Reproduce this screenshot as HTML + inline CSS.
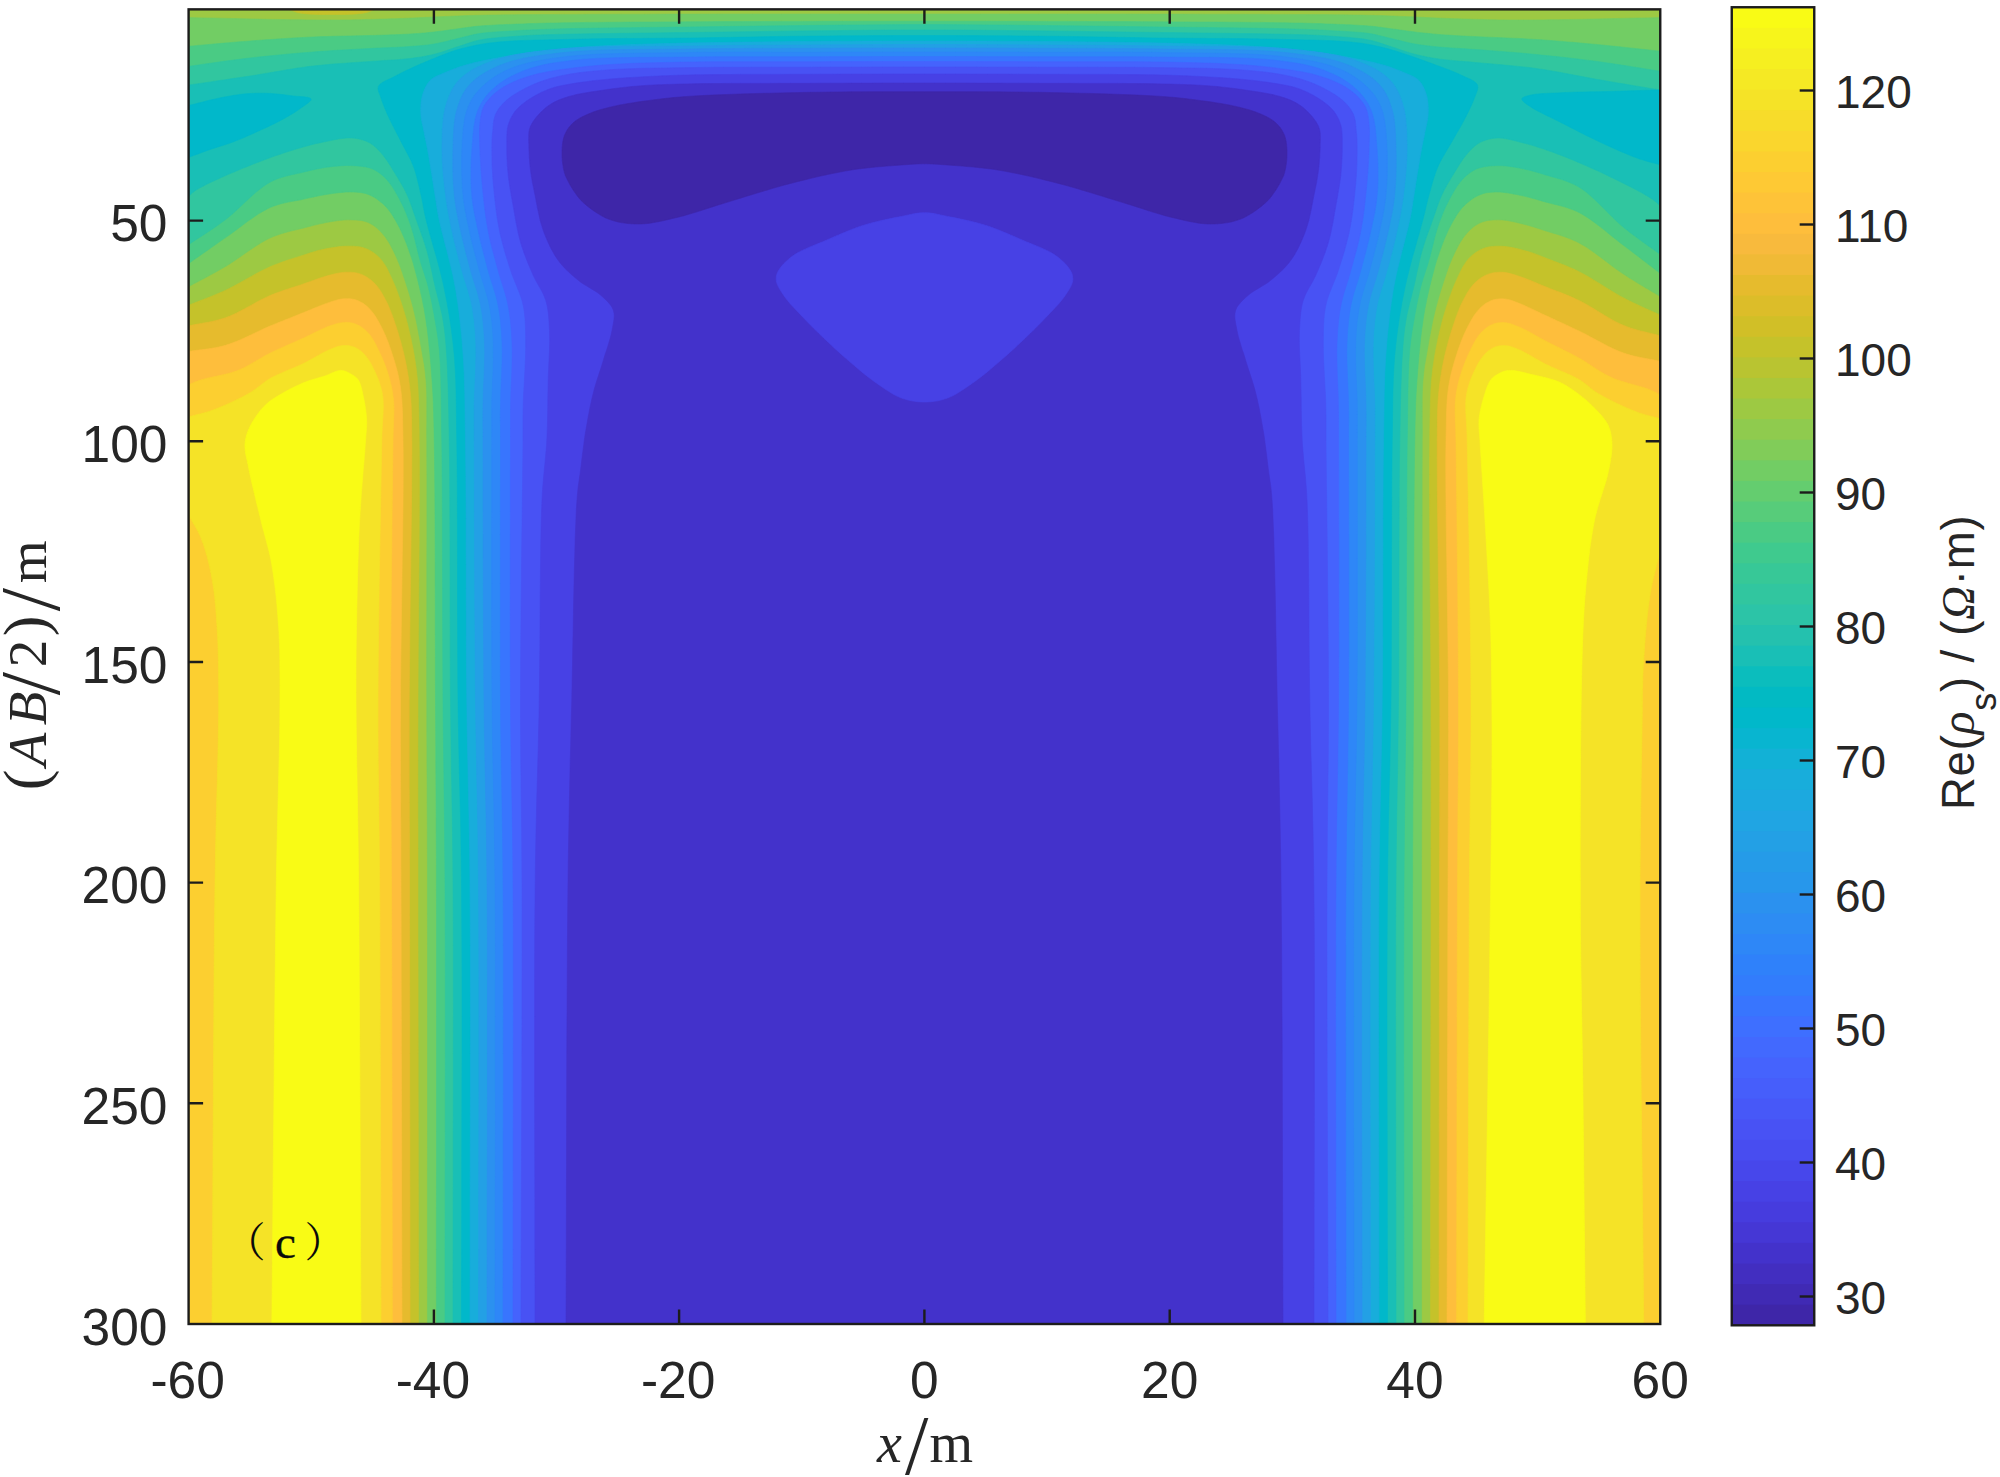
<!DOCTYPE html>
<html lang="en"><head><meta charset="utf-8"><title>Figure (c)</title>
<style>html,body{margin:0;padding:0;background:#fff}body{width:2000px;height:1477px;overflow:hidden}svg{display:block}</style></head>
<body>
<svg width="2000" height="1477" viewBox="0 0 2000 1477">
<defs><clipPath id="cp"><rect x="188.60" y="9.35" width="1471.65" height="1314.65"/></clipPath></defs>
<rect x="188.60" y="9.35" width="1471.65" height="1314.65" fill="#9dc943"/>
<g clip-path="url(#cp)">
<path d="M188,17.5 195.7,17.7 203.6,17.9 211.5,18 219.4,18.2 227.3,18.4 235.2,18.6 243.1,18.8 250.8,18.9 258.4,19.1 265.8,19.3 273,19.4 280,19.5 285.4,19.6 290.7,19.7 295.9,19.7 300.9,19.8 305.9,19.9 310.8,19.9 315.6,20 320.5,20 325.3,20 330.1,20 335,20 340,20 345.1,19.9 350.2,19.9 355.4,19.8 360.6,19.7 365.9,19.5 371.1,19.4 376.2,19.3 381.3,19.1 386.2,19 391,18.8 395.6,18.7 400,18.5 403.8,18.4 407.3,18.2 410.7,18.1 414,17.9 417.3,17.8 420.5,17.6 423.7,17.5 427,17.3 430.4,17.2 434,17 437.5,16.8 441,16.7 444.5,16.5 448,16.4 451.6,16.2 455.2,16 458.9,15.9 462.8,15.7 466.8,15.6 471,15.4 475.4,15.3 480,15.2 487.8,15 496.1,14.9 504.7,14.8 513.7,14.7 523,14.6 532.8,14.6 543,14.5 553.6,14.5 564.6,14.4 576,14.4 587.8,14.3 600,14.3 621.5,14.2 644.9,14.2 670,14.1 696.5,14.1 724,14 752.4,14 781.3,14 810.5,14 839.7,14 868.6,14 897,14 924.5,14 952,14 980.4,14 1009.3,14 1038.5,14 1067.7,14 1096.6,14 1125,14 1152.5,14.1 1179,14.1 1204.1,14.2 1227.5,14.2 1249,14.3 1261.2,14.3 1273,14.4 1284.4,14.4 1295.4,14.5 1306,14.5 1316.2,14.6 1326,14.6 1335.3,14.7 1344.3,14.8 1352.9,14.9 1361.2,15 1369,15.2 1373.6,15.3 1378,15.4 1382.2,15.6 1386.2,15.7 1390.1,15.9 1393.8,16 1397.4,16.2 1401,16.4 1404.5,16.5 1408,16.7 1411.5,16.8 1415,17 1418.6,17.2 1422,17.3 1425.3,17.5 1428.5,17.6 1431.7,17.8 1435,17.9 1438.3,18.1 1441.7,18.2 1445.2,18.4 1449,18.5 1453.4,18.7 1458,18.8 1462.8,19 1467.7,19.1 1472.8,19.3 1477.9,19.4 1483.1,19.5 1488.4,19.7 1493.6,19.8 1498.8,19.9 1503.9,19.9 1509,20 1514,20 1518.9,20 1523.7,20 1528.5,20 1533.4,20 1538.2,19.9 1543.1,19.9 1548.1,19.8 1553.1,19.7 1558.3,19.7 1563.6,19.6 1569,19.5 1576,19.4 1583.2,19.3 1590.6,19.1 1598.2,18.9 1605.9,18.8 1613.8,18.6 1621.7,18.4 1629.6,18.2 1637.5,18 1645.4,17.9 1653.3,17.7 1661,17.5 1661,297 1657.9,295.1 1654.8,293.2 1651.7,291.4 1648.6,289.5 1645.4,287.7 1642.3,285.8 1639.2,284 1636.1,282.1 1633,280.1 1629.8,278.2 1626.6,276.1 1623.4,274 1619.8,271.6 1616.1,269 1612.4,266.3 1608.7,263.4 1604.9,260.6 1601.2,257.7 1597.4,254.9 1593.7,252.2 1589.9,249.6 1586.3,247.1 1582.6,244.9 1579,242.9 1575.8,241.3 1572.6,239.9 1569.5,238.6 1566.3,237.4 1563.2,236.3 1560.1,235.3 1557,234.3 1554,233.4 1551,232.5 1548,231.6 1545.1,230.7 1541.7,229.6 1538.5,228.5 1535.2,227.5 1532,226.5 1528.9,225.6 1525.8,224.7 1522.7,223.9 1519.7,223.2 1516.7,222.5 1513.7,221.8 1510.8,221.2 1507.9,220.6 1505.1,220.2 1502.2,219.9 1499.4,219.8 1496.2,219.8 1493,219.9 1489.8,220.2 1486.7,220.7 1483.7,221.5 1480.8,222.5 1478,223.9 1475.3,225.6 1472.7,227.6 1470.2,229.8 1467.8,232.2 1465.6,234.7 1463.6,237.2 1461.8,239.9 1460,242.7 1458.4,245.6 1456.8,248.7 1455.2,251.8 1453.7,255 1452.4,257.8 1451.2,260.7 1450,263.6 1448.8,266.6 1447.7,269.7 1446.6,272.8 1445.6,275.9 1444.5,279 1443.5,282.1 1442.5,285.2 1441.5,288.4 1440.5,291.5 1439.5,294.7 1438.6,297.9 1437.7,301.1 1436.8,304.3 1435.9,307.6 1435.1,310.9 1434.3,314.2 1433.6,317.5 1432.8,320.8 1432.1,324.2 1431.5,327.6 1430.8,331 1430.2,334.4 1429.5,337.8 1428.9,341.3 1428.3,344.7 1427.7,348.1 1427.1,351.5 1426.5,354.9 1425.9,358.3 1425.3,361.7 1424.7,365.1 1424.2,368.7 1423.8,372.3 1423.4,376.1 1423,380 1422.7,384.4 1422.5,388.7 1422.3,393.1 1422.2,397.5 1422.2,402.1 1422.2,406.8 1422.2,411.7 1422.2,416.9 1422.2,422.4 1422.3,428.2 1422.3,434.4 1422.2,441 1422.2,456.4 1422.1,474.3 1422.1,494.2 1422.1,515.7 1422.1,538.5 1422.2,562.1 1422.2,586.2 1422.2,610.3 1422.3,634.2 1422.3,657.4 1422.3,679.4 1422.2,700 1422.2,716.1 1422.2,731.4 1422.1,746.1 1422.1,760.4 1422,774.5 1421.9,788.5 1421.9,802.7 1421.8,817.3 1421.7,832.4 1421.7,848.3 1421.6,865.1 1421.6,883 1421.6,913.1 1421.5,945.6 1421.5,980 1421.5,1016.1 1421.5,1053.6 1421.5,1092 1421.5,1131.1 1421.6,1170.6 1421.6,1210 1421.6,1249.1 1421.6,1287.6 1421.6,1325 427.4,1325 427.4,1287.6 427.4,1249.1 427.4,1210 427.4,1170.6 427.5,1131.1 427.5,1092 427.5,1053.6 427.5,1016.1 427.5,980 427.5,945.6 427.4,913.1 427.4,883 427.4,865.1 427.3,848.3 427.3,832.4 427.2,817.3 427.1,802.7 427.1,788.5 427,774.5 426.9,760.4 426.9,746.1 426.8,731.4 426.8,716.1 426.8,700 426.7,679.4 426.7,657.4 426.7,634.2 426.8,610.3 426.8,586.2 426.8,562.1 426.9,538.5 426.9,515.7 426.9,494.2 426.9,474.3 426.8,456.4 426.8,441 426.7,434.4 426.7,428.2 426.8,422.4 426.8,416.9 426.8,411.7 426.8,406.8 426.8,402.1 426.8,397.5 426.7,393.1 426.5,388.7 426.3,384.4 426,380 425.6,376.1 425.2,372.3 424.8,368.7 424.3,365.1 423.7,361.7 423.1,358.3 422.5,354.9 421.9,351.5 421.3,348.1 420.7,344.7 420.1,341.3 419.5,337.8 418.8,334.4 418.2,331 417.5,327.6 416.9,324.2 416.2,320.8 415.4,317.5 414.7,314.2 413.9,310.9 413.1,307.6 412.2,304.3 411.3,301.1 410.4,297.9 409.5,294.7 408.5,291.5 407.5,288.4 406.5,285.2 405.5,282.1 404.5,279 403.4,275.9 402.4,272.8 401.3,269.7 400.2,266.6 399,263.6 397.8,260.7 396.6,257.8 395.3,255 393.8,251.8 392.2,248.7 390.6,245.6 389,242.7 387.2,239.9 385.4,237.2 383.4,234.7 381.2,232.2 378.8,229.8 376.3,227.6 373.7,225.6 371,223.9 368.2,222.5 365.3,221.5 362.3,220.7 359.2,220.3 356,220 352.8,219.9 349.6,219.8 346.8,219.8 343.9,220 341.1,220.2 338.2,220.6 335.3,221 332.3,221.5 329.3,222 326.3,222.5 323.2,223.2 320.1,223.8 317,224.6 313.8,225.3 310.6,226.2 307.3,227 303.9,227.9 300.7,228.7 297.5,229.5 294.1,230.3 290.8,231.1 287.4,232 283.9,232.9 280.5,234 277,235.2 273.5,236.5 270,238 266.4,239.8 262.8,241.8 259.1,244 255.3,246.4 251.6,248.9 247.8,251.5 244.1,254.1 240.3,256.7 236.6,259.3 232.9,261.8 229.2,264.2 225.6,266.4 222.4,268.3 219.2,270.1 216,271.9 212.9,273.6 209.8,275.3 206.7,277 203.5,278.7 200.4,280.3 197.3,282 194.2,283.6 191.1,285.3 188,287Z" fill="#72cd64" stroke="#72cd64" stroke-width="0.6"/>
<path d="M188,46.3 193.2,45.9 198.3,45.4 203.5,44.9 208.6,44.5 213.8,44 219,43.6 224.1,43.1 229.3,42.7 234.5,42.2 239.6,41.8 244.8,41.4 250,41 255.2,40.6 260.5,40.2 265.8,39.8 271.1,39.5 276.4,39.1 281.7,38.8 286.9,38.4 292.2,38.1 297.5,37.8 302.7,37.5 307.9,37.2 313,37 317.9,36.8 322.8,36.6 327.7,36.5 332.6,36.3 337.5,36.2 342.3,36.1 347.1,36 351.9,35.9 356.5,35.8 361.1,35.7 365.6,35.6 370,35.5 373.6,35.4 377.2,35.3 380.7,35.2 384.2,35.1 387.7,35 391.1,34.8 394.4,34.7 397.7,34.6 400.9,34.5 404,34.3 407,34.2 410,34 413.3,33.8 416.4,33.6 419.4,33.4 422.3,33.1 425.2,32.9 428.1,32.6 431,32.3 434,32 437.2,31.6 440.5,31.2 443.8,30.8 447.2,30.3 450.5,29.8 453.7,29.4 456.9,28.9 460,28.5 462.9,28.1 465.7,27.7 468.4,27.3 471.1,27 473.9,26.6 476.8,26.3 480,26 482.8,25.8 485.9,25.6 489,25.4 492.3,25.2 495.6,25 499,24.8 502.5,24.7 506,24.5 509.6,24.4 513.1,24.3 516.6,24.1 520,24 523.5,23.9 526.8,23.7 530.1,23.6 533.4,23.5 536.7,23.4 540,23.3 543.4,23.2 546.9,23.1 550.6,23 554.5,23 558.6,22.9 563,22.8 571,22.7 579.6,22.6 588.7,22.4 598.4,22.4 608.5,22.3 619,22.2 629.8,22.1 641,22 652.4,22 664.1,21.9 676,21.9 688,21.8 705.1,21.7 723.1,21.6 741.9,21.6 761.3,21.5 781.2,21.4 801.6,21.4 822.2,21.3 842.9,21.3 863.6,21.2 884.2,21.2 904.6,21.2 924.5,21.2 944.4,21.2 964.8,21.2 985.4,21.2 1006.1,21.3 1026.8,21.3 1047.4,21.4 1067.8,21.4 1087.7,21.5 1107.1,21.6 1125.9,21.6 1143.9,21.7 1161,21.8 1173,21.9 1184.9,21.9 1196.6,22 1208,22 1219.2,22.1 1230,22.2 1240.5,22.3 1250.6,22.4 1260.3,22.4 1269.4,22.6 1278,22.7 1286,22.8 1290.4,22.9 1294.5,23 1298.4,23 1302.1,23.1 1305.6,23.2 1309,23.3 1312.3,23.4 1315.6,23.5 1318.9,23.6 1322.2,23.7 1325.5,23.9 1329,24 1332.4,24.1 1335.9,24.3 1339.4,24.4 1343,24.5 1346.5,24.7 1350,24.8 1353.4,25 1356.7,25.2 1360,25.4 1363.1,25.6 1366.2,25.8 1369,26 1372.2,26.3 1375.1,26.6 1377.9,27 1380.6,27.3 1383.3,27.7 1386.1,28.1 1389,28.5 1392.1,28.9 1395.3,29.3 1398.5,29.8 1401.9,30.3 1405.2,30.7 1408.5,31.2 1411.8,31.6 1415,32 1418,32.4 1420.9,32.7 1423.8,33 1426.7,33.3 1429.6,33.6 1432.6,33.9 1435.7,34.2 1439,34.5 1442,34.7 1445,34.9 1448.1,35.1 1451.3,35.3 1454.6,35.5 1457.9,35.7 1461.3,35.9 1464.8,36.1 1468.3,36.3 1471.8,36.4 1475.4,36.6 1479,36.8 1483.4,37 1487.9,37.2 1492.5,37.4 1497.2,37.6 1501.9,37.8 1506.7,38 1511.5,38.2 1516.4,38.4 1521.3,38.6 1526.2,38.9 1531.1,39.2 1536,39.5 1541.1,39.8 1546.3,40.2 1551.5,40.6 1556.8,41 1562.1,41.4 1567.3,41.9 1572.6,42.3 1577.9,42.8 1583.2,43.3 1588.5,43.8 1593.8,44.2 1599,44.7 1604.2,45.2 1609.4,45.8 1614.5,46.3 1619.7,46.8 1624.9,47.4 1630,47.9 1635.2,48.5 1640.4,49.1 1645.5,49.6 1650.7,50.2 1655.8,50.7 1661,51.3 1661,274 1657.9,271.6 1654.8,269.2 1651.7,266.8 1648.6,264.5 1645.5,262.1 1642.4,259.7 1639.3,257.3 1636.2,254.9 1633,252.5 1629.9,250.1 1626.7,247.7 1623.4,245.2 1619.8,242.5 1616.2,239.6 1612.5,236.7 1608.8,233.7 1605.1,230.6 1601.3,227.6 1597.5,224.7 1593.8,221.9 1590,219.2 1586.3,216.7 1582.6,214.5 1579,212.5 1575.5,210.8 1572,209.4 1568.6,208.2 1565.1,207.1 1561.7,206.1 1558.2,205.2 1554.9,204.4 1551.6,203.6 1548.3,202.7 1545.1,201.9 1541.7,200.9 1538.5,199.9 1535.3,199 1532.1,198.2 1529,197.3 1525.9,196.6 1522.8,195.8 1519.7,195.2 1516.5,194.5 1513.2,193.9 1510,193.3 1506.9,192.8 1503.7,192.4 1500.7,192.1 1497.7,192 1494.7,192 1491.9,192.2 1489,192.4 1486.2,192.8 1483.5,193.5 1480.8,194.4 1478.3,195.5 1475.7,196.8 1473.2,198.3 1470.8,200 1468.4,201.9 1466.1,203.8 1463.9,205.9 1461.9,208 1460.1,210.3 1458.3,212.7 1456.6,215.2 1455,217.9 1453.4,220.6 1451.8,223.4 1450.3,226.2 1448.8,229.1 1447.4,232.2 1446,235.3 1444.6,238.5 1443.3,241.8 1442,245.1 1440.8,248.4 1439.6,251.7 1438.5,255 1437.4,258.3 1436.3,261.6 1435.3,265 1434.4,268.4 1433.5,271.7 1432.6,275.1 1431.7,278.6 1430.8,282 1430,285.5 1429.2,288.8 1428.5,292 1427.7,295.2 1427,298.4 1426.4,301.6 1425.7,305 1425,308.4 1424.4,311.9 1423.8,315.5 1423.2,319.3 1422.6,323.7 1421.9,328.4 1421.3,333.2 1420.7,338.2 1420.2,343.3 1419.7,348.5 1419.1,353.8 1418.7,359.1 1418.2,364.4 1417.8,369.7 1417.4,374.9 1417,380 1416.7,384.9 1416.4,389.7 1416.1,394.2 1415.9,398.7 1415.7,403.3 1415.6,407.8 1415.4,412.6 1415.3,417.5 1415.1,422.8 1415,428.4 1414.9,434.4 1414.8,441 1414.5,456.4 1414.3,474.3 1414.1,494.2 1414,515.7 1413.9,538.5 1413.8,562.1 1413.8,586.2 1413.7,610.3 1413.7,634.2 1413.6,657.4 1413.6,679.4 1413.5,700 1413.4,716.1 1413.3,731.4 1413.2,746.1 1413.2,760.4 1413.1,774.5 1413,788.5 1412.9,802.7 1412.8,817.3 1412.8,832.4 1412.7,848.3 1412.6,865.1 1412.6,883 1412.5,913.1 1412.5,945.6 1412.5,980 1412.5,1016.1 1412.5,1053.6 1412.5,1092 1412.5,1131.1 1412.5,1170.6 1412.6,1210 1412.6,1249.1 1412.6,1287.6 1412.6,1325 436.4,1325 436.4,1287.6 436.4,1249.1 436.4,1210 436.5,1170.6 436.5,1131.1 436.5,1092 436.5,1053.6 436.5,1016.1 436.5,980 436.5,945.6 436.5,913.1 436.4,883 436.4,865.1 436.3,848.3 436.2,832.4 436.2,817.3 436.1,802.7 436,788.5 435.9,774.5 435.8,760.4 435.8,746.1 435.7,731.4 435.6,716.1 435.5,700 435.4,679.4 435.4,657.4 435.3,634.2 435.3,610.3 435.2,586.2 435.2,562.1 435.1,538.5 435,515.7 434.9,494.2 434.7,474.3 434.5,456.4 434.2,441 434.1,434.4 434,428.4 433.9,422.8 433.7,417.5 433.6,412.6 433.4,407.8 433.3,403.3 433.1,398.7 432.9,394.2 432.6,389.7 432.3,384.9 432,380 431.6,374.9 431.2,369.7 430.8,364.4 430.3,359.1 429.9,353.8 429.3,348.5 428.8,343.3 428.3,338.2 427.7,333.2 427.1,328.4 426.4,323.7 425.8,319.3 425.2,315.5 424.6,311.9 424,308.4 423.3,305 422.6,301.6 422,298.4 421.3,295.2 420.5,292 419.8,288.8 419,285.5 418.2,282 417.3,278.6 416.4,275.1 415.5,271.7 414.6,268.4 413.7,265 412.7,261.6 411.6,258.3 410.5,255 409.4,251.7 408.2,248.4 407,245.1 405.7,241.8 404.4,238.5 403,235.3 401.6,232.2 400.2,229.1 398.7,226.2 397.2,223.4 395.6,220.6 394,217.9 392.4,215.2 390.7,212.7 388.9,210.3 387.1,208 385.1,205.9 382.9,203.8 380.6,201.9 378.2,200 375.8,198.3 373.3,196.8 370.7,195.5 368.2,194.4 365.5,193.5 362.8,192.9 360,192.5 357.2,192.2 354.3,192.1 351.3,192 348.3,192 345.3,192.1 342.2,192.4 339,192.7 335.8,193.1 332.5,193.5 329.3,194 326.2,194.5 323.1,195 320,195.6 316.9,196.2 313.8,196.9 310.5,197.6 307.3,198.3 303.9,199.1 300.7,199.8 297.5,200.4 294.1,201 290.8,201.6 287.4,202.3 283.9,203.1 280.4,203.9 277,205 273.5,206.2 270,207.6 266.4,209.4 262.7,211.4 259,213.6 255.3,216.1 251.5,218.7 247.7,221.3 244,224.1 240.2,226.9 236.5,229.7 232.8,232.4 229.2,235.1 225.6,237.6 222.3,239.8 219.1,242.1 216,244.3 212.8,246.5 209.7,248.7 206.6,250.9 203.5,253.1 200.4,255.2 197.3,257.4 194.2,259.6 191.1,261.8 188,264Z" fill="#4acb84" stroke="#4acb84" stroke-width="0.6"/>
<path d="M188,66.4 193.2,65.7 198.3,65 203.5,64.2 208.6,63.5 213.8,62.8 219,62 224.1,61.3 229.3,60.6 234.5,59.9 239.6,59.3 244.8,58.6 250,58 255.2,57.4 260.5,56.8 265.8,56.3 271.1,55.7 276.4,55.2 281.7,54.7 286.9,54.2 292.2,53.7 297.5,53.3 302.7,52.8 307.9,52.4 313,52 317.9,51.6 322.8,51.3 327.7,50.9 332.6,50.6 337.5,50.3 342.3,50 347.1,49.8 351.8,49.5 356.5,49.2 361.1,49 365.6,48.7 370,48.5 373.6,48.3 377.2,48.1 380.7,48 384.2,47.8 387.7,47.7 391.1,47.5 394.4,47.4 397.7,47.2 400.9,47.1 404,46.9 407,46.7 410,46.5 413.3,46.2 416.4,46 419.4,45.8 422.3,45.5 425.2,45.2 428.1,44.9 431,44.5 434,44 437.2,43.4 440.5,42.7 443.8,42 447.2,41.2 450.5,40.3 453.7,39.5 456.9,38.7 460,38 462.9,37.3 465.7,36.6 468.4,35.9 471.1,35.3 473.8,34.6 476.8,34 480,33.5 482.8,33.1 485.8,32.8 489,32.4 492.2,32.2 495.6,31.9 499,31.7 502.5,31.5 506,31.3 509.6,31.1 513.1,30.9 516.6,30.7 520,30.5 523.5,30.3 526.8,30.1 530.1,30 533.4,29.8 536.7,29.7 540,29.5 543.4,29.4 546.9,29.3 550.6,29.2 554.5,29 558.6,28.9 563,28.8 571,28.6 579.6,28.4 588.7,28.3 598.4,28.1 608.5,27.9 619,27.8 629.8,27.7 641,27.5 652.4,27.4 664.1,27.3 676,27.1 688,27 705.1,26.8 723.1,26.5 741.9,26.3 761.3,26 781.2,25.8 801.6,25.5 822.2,25.3 842.9,25 863.6,24.9 884.2,24.7 904.6,24.6 924.5,24.6 944.4,24.6 964.8,24.7 985.4,24.9 1006.1,25 1026.8,25.3 1047.4,25.5 1067.8,25.8 1087.7,26 1107.1,26.3 1125.9,26.5 1143.9,26.8 1161,27 1173,27.1 1184.9,27.3 1196.6,27.4 1208,27.5 1219.2,27.7 1230,27.8 1240.5,27.9 1250.6,28.1 1260.3,28.3 1269.4,28.4 1278,28.6 1286,28.8 1290.4,28.9 1294.5,29 1298.4,29.2 1302.1,29.3 1305.6,29.4 1309,29.5 1312.3,29.7 1315.6,29.8 1318.9,30 1322.2,30.1 1325.5,30.3 1329,30.5 1332.4,30.7 1335.9,30.9 1339.4,31.1 1343,31.3 1346.5,31.5 1350,31.7 1353.4,31.9 1356.8,32.2 1360,32.4 1363.2,32.8 1366.2,33.1 1369,33.5 1372.2,34 1375.2,34.6 1377.9,35.3 1380.6,35.9 1383.3,36.6 1386.1,37.3 1389,38 1392.1,38.7 1395.3,39.5 1398.5,40.3 1401.8,41.1 1405.2,41.9 1408.5,42.7 1411.8,43.4 1415,44 1418,44.5 1420.9,45 1423.8,45.3 1426.7,45.7 1429.6,46 1432.6,46.4 1435.7,46.7 1439,47 1442,47.3 1445,47.5 1448.1,47.7 1451.3,48 1454.6,48.2 1457.9,48.4 1461.3,48.6 1464.8,48.8 1468.3,49.1 1471.8,49.3 1475.4,49.5 1479,49.8 1483.4,50.1 1487.9,50.5 1492.5,50.8 1497.2,51.2 1501.9,51.5 1506.7,51.9 1511.5,52.3 1516.4,52.7 1521.3,53.1 1526.2,53.5 1531.1,54 1536,54.5 1541.1,55 1546.3,55.5 1551.6,56.1 1556.8,56.6 1562.1,57.2 1567.4,57.8 1572.6,58.4 1577.9,59 1583.2,59.7 1588.5,60.4 1593.8,61 1599,61.7 1604.2,62.5 1609.4,63.2 1614.5,64 1619.7,64.8 1624.9,65.6 1630,66.4 1635.2,67.3 1640.4,68.1 1645.5,68.9 1650.7,69.8 1655.8,70.6 1661,71.4 1661,255 1657.9,252.7 1654.9,250.5 1651.8,248.3 1648.7,246.2 1645.7,244 1642.6,241.8 1639.6,239.6 1636.5,237.3 1633.4,235 1630.3,232.7 1627.2,230.2 1624,227.7 1620.3,224.6 1616.6,221.2 1612.9,217.6 1609.2,213.9 1605.4,210.1 1601.6,206.3 1597.8,202.5 1594,198.9 1590.2,195.5 1586.5,192.3 1582.7,189.5 1579,187.1 1575.9,185.3 1572.7,183.8 1569.6,182.4 1566.4,181.2 1563.3,180.1 1560.2,179.1 1557.1,178.2 1554,177.3 1551,176.5 1548,175.6 1545.1,174.8 1541.8,173.7 1538.5,172.7 1535.3,171.8 1532.1,170.9 1529,170.1 1525.9,169.4 1522.8,168.7 1519.7,168.1 1516.5,167.5 1513.3,166.9 1510.1,166.5 1507,166.1 1503.9,165.8 1500.8,165.6 1497.7,165.6 1494.7,165.7 1491.7,165.8 1488.7,166.1 1485.7,166.5 1482.8,167 1480,167.7 1477.4,168.6 1474.7,169.8 1472.2,171.2 1469.8,172.8 1467.4,174.7 1465.2,176.6 1463,178.8 1461.1,180.9 1459.3,183.1 1457.5,185.6 1455.8,188.1 1454.2,190.8 1452.6,193.5 1451,196.3 1449.5,199.1 1448.1,201.9 1446.6,204.7 1445.3,207.6 1444,210.6 1442.7,213.6 1441.5,216.7 1440.3,219.8 1439.1,223 1438,226.2 1437,229.4 1436,232.8 1435,236.2 1434.1,239.7 1433.3,243.2 1432.4,246.7 1431.6,250.1 1430.7,253.6 1429.9,256.9 1429,260.1 1428,263.5 1427,266.7 1425.9,269.9 1424.9,273 1423.9,276.2 1422.9,279.3 1421.9,282.6 1421,286 1420.2,289.2 1419.4,292.5 1418.7,295.8 1417.9,299.3 1417.2,302.7 1416.5,306.2 1415.9,309.7 1415.2,313.1 1414.6,316.6 1414,320 1413.4,323.2 1412.9,326.4 1412.4,329.4 1411.9,332.4 1411.5,335.5 1411,338.7 1410.6,341.9 1410.2,345.4 1409.8,349 1409.5,353 1409.1,358.7 1408.7,364.7 1408.5,370.9 1408.2,377.5 1408.1,384.3 1407.9,391.4 1407.8,398.9 1407.7,406.7 1407.6,414.7 1407.5,423.2 1407.4,431.9 1407.2,441 1407,457.9 1406.9,476.8 1406.7,497.2 1406.6,518.9 1406.6,541.5 1406.5,564.8 1406.4,588.4 1406.4,611.9 1406.3,635.2 1406.2,657.9 1406.1,679.6 1406,700 1405.9,716.1 1405.7,731.4 1405.5,746.1 1405.3,760.4 1405.1,774.5 1405,788.5 1404.8,802.7 1404.6,817.3 1404.4,832.4 1404.3,848.3 1404.1,865.1 1404,883 1403.9,913.1 1403.8,945.6 1403.7,980 1403.7,1016.1 1403.7,1053.6 1403.8,1092 1403.8,1131.1 1403.9,1170.6 1403.9,1210 1404,1249.1 1404,1287.6 1404,1325 445,1325 445,1287.6 445,1249.1 445.1,1210 445.1,1170.6 445.2,1131.1 445.2,1092 445.3,1053.6 445.3,1016.1 445.3,980 445.2,945.6 445.1,913.1 445,883 444.9,865.1 444.7,848.3 444.6,832.4 444.4,817.3 444.2,802.7 444,788.5 443.9,774.5 443.7,760.4 443.5,746.1 443.3,731.4 443.1,716.1 443,700 442.9,679.6 442.8,657.9 442.7,635.2 442.6,611.9 442.6,588.4 442.5,564.8 442.4,541.5 442.4,518.9 442.3,497.2 442.1,476.8 442,457.9 441.8,441 441.6,431.9 441.5,423.2 441.4,414.7 441.3,406.7 441.2,398.9 441.1,391.4 440.9,384.3 440.8,377.5 440.5,370.9 440.3,364.7 439.9,358.7 439.5,353 439.2,349 438.8,345.4 438.4,341.9 438,338.7 437.5,335.5 437.1,332.4 436.6,329.4 436.1,326.4 435.6,323.2 435,320 434.4,316.6 433.8,313.1 433.1,309.7 432.5,306.2 431.8,302.7 431.1,299.3 430.3,295.8 429.6,292.5 428.8,289.2 428,286 427.1,282.6 426.1,279.3 425.1,276.2 424.1,273 423.1,269.9 422,266.7 421,263.5 420,260.1 419.1,256.9 418.3,253.6 417.4,250.1 416.6,246.7 415.7,243.2 414.9,239.7 414,236.2 413,232.8 412,229.4 411,226.2 409.9,223 408.7,219.8 407.5,216.7 406.3,213.6 405,210.6 403.7,207.6 402.4,204.7 400.9,201.9 399.5,199.1 398,196.3 396.4,193.5 394.8,190.8 393.2,188.1 391.5,185.6 389.7,183.1 387.9,180.9 386,178.8 383.8,176.6 381.6,174.7 379.2,172.8 376.8,171.2 374.3,169.8 371.6,168.6 369,167.7 366.2,167 363.3,166.5 360.3,166.2 357.3,165.9 354.3,165.7 351.3,165.6 348.2,165.5 345.1,165.5 342,165.7 338.9,165.9 335.7,166.2 332.5,166.5 329.3,166.9 326.2,167.3 323.1,167.8 320,168.4 316.9,169 313.7,169.7 310.5,170.4 307.2,171.2 303.9,172 300.7,172.8 297.4,173.5 294.1,174.2 290.7,174.9 287.3,175.8 283.8,176.7 280.4,177.8 276.9,179 273.4,180.5 270,182.2 266.3,184.4 262.6,187 258.8,189.9 255,193.1 251.2,196.5 247.4,200 243.6,203.5 239.9,207.1 236.1,210.6 232.4,213.9 228.7,217.1 225,220 221.8,222.3 218.7,224.6 215.6,226.8 212.5,228.9 209.4,230.9 206.4,233 203.3,235 200.3,236.9 197.2,238.9 194.1,240.9 191.1,242.9 188,245Z" fill="#31c69f" stroke="#31c69f" stroke-width="0.6"/>
<path d="M188,85.2 193.2,84.4 198.3,83.7 203.5,82.9 208.7,82.2 213.8,81.4 219,80.6 224.1,79.9 229.3,79.1 234.5,78.3 239.6,77.6 244.8,76.8 250,76 255.2,75.2 260.5,74.3 265.8,73.4 271.1,72.5 276.4,71.6 281.7,70.7 286.9,69.8 292.2,69 297.4,68.1 302.7,67.4 307.8,66.6 313,66 317.9,65.5 322.8,65 327.7,64.5 332.6,64.1 337.4,63.7 342.3,63.4 347.1,63.1 351.8,62.7 356.5,62.4 361.1,62.1 365.6,61.8 370,61.5 373.6,61.2 377.2,61 380.7,60.8 384.2,60.5 387.7,60.3 391.1,60.1 394.4,59.9 397.7,59.7 400.9,59.4 404,59.1 407.1,58.8 410,58.5 413.3,58.1 416.4,57.6 419.4,57.2 422.4,56.7 425.2,56.2 428.1,55.6 431,55 434,54.3 437.2,53.4 440.5,52.5 443.9,51.4 447.2,50.3 450.5,49.2 453.7,48.1 456.9,47 460,46 462.9,45.1 465.7,44.1 468.4,43.2 471,42.3 473.8,41.5 476.8,40.7 480,40 482.8,39.5 485.8,39 489,38.6 492.2,38.2 495.6,37.9 499,37.5 502.5,37.2 506,37 509.6,36.7 513.1,36.5 516.6,36.2 520,36 523.5,35.8 526.8,35.6 530.1,35.4 533.4,35.2 536.7,35.1 540,35 543.4,34.8 546.9,34.7 550.6,34.6 554.5,34.5 558.6,34.4 563,34.3 571,34.1 579.6,33.9 588.7,33.8 598.4,33.6 608.5,33.5 619,33.3 629.8,33.2 641,33 652.4,32.9 664.1,32.8 676,32.6 688,32.5 705.1,32.3 723.1,32 741.9,31.8 761.3,31.5 781.2,31.2 801.6,30.9 822.2,30.7 842.9,30.5 863.6,30.3 884.2,30.1 904.6,30 924.5,30 944.4,30 964.8,30.1 985.4,30.3 1006.1,30.5 1026.8,30.7 1047.4,30.9 1067.8,31.2 1087.7,31.5 1107.1,31.8 1125.9,32 1143.9,32.3 1161,32.5 1173,32.6 1184.9,32.8 1196.6,32.9 1208,33 1219.2,33.2 1230,33.3 1240.5,33.5 1250.6,33.6 1260.3,33.8 1269.4,33.9 1278,34.1 1286,34.3 1290.4,34.4 1294.5,34.5 1298.4,34.6 1302.1,34.7 1305.6,34.8 1309,35 1312.3,35.1 1315.6,35.2 1318.9,35.4 1322.2,35.6 1325.5,35.8 1329,36 1332.4,36.2 1335.9,36.5 1339.4,36.7 1343,37 1346.5,37.2 1350,37.5 1353.4,37.9 1356.8,38.2 1360,38.6 1363.2,39 1366.2,39.5 1369,40 1372.2,40.7 1375.2,41.5 1378,42.3 1380.6,43.2 1383.3,44.1 1386.1,45.1 1389,46 1392.1,47 1395.3,48 1398.5,49.2 1401.8,50.3 1405.2,51.4 1408.5,52.4 1411.8,53.4 1415,54.3 1418,55 1420.9,55.7 1423.8,56.3 1426.6,56.9 1429.6,57.5 1432.6,58 1435.7,58.5 1439,59 1441.9,59.4 1445,59.8 1448.1,60.1 1451.3,60.4 1454.6,60.7 1457.9,61 1461.3,61.3 1464.8,61.6 1468.3,61.8 1471.8,62.1 1475.4,62.5 1479,62.8 1483.4,63.2 1487.9,63.6 1492.5,64 1497.2,64.4 1501.9,64.8 1506.7,65.3 1511.6,65.7 1516.4,66.2 1521.3,66.7 1526.2,67.2 1531.1,67.8 1536,68.5 1541.2,69.2 1546.3,70 1551.6,70.9 1556.8,71.8 1562.1,72.8 1567.4,73.8 1572.6,74.8 1577.9,75.8 1583.2,76.8 1588.5,77.8 1593.8,78.8 1599,79.7 1604.2,80.6 1609.4,81.5 1614.5,82.4 1619.7,83.3 1624.9,84.1 1630,85 1635.2,85.9 1640.3,86.7 1645.5,87.6 1650.7,88.5 1655.8,89.3 1661,90.2 1661,207 1659.3,205.3 1657.7,203.6 1655.9,201.9 1653.5,199.9 1651.2,198.4 1648.5,196.7 1645.5,194.9 1642.2,193 1638.6,191.1 1634.8,189.1 1630.8,187 1626.8,185 1622.8,183 1618.8,181 1614.8,179 1611,177.2 1607,175.2 1602.9,173.3 1598.7,171.3 1594.4,169.4 1590.1,167.5 1585.8,165.6 1581.5,163.7 1577.2,161.9 1573,160.1 1568.9,158.4 1564.8,156.8 1560.8,155.2 1557.2,153.9 1553.6,152.5 1550,151.3 1546.5,150 1543,148.8 1539.6,147.7 1536.2,146.6 1532.9,145.6 1529.6,144.6 1526.4,143.7 1523.2,142.9 1519.7,142 1516.2,141.1 1512.8,140.2 1509.5,139.4 1506.2,138.8 1503.1,138.3 1500,138 1497,138 1493.8,138.3 1490.7,138.7 1487.7,139.5 1484.8,140.4 1482,141.5 1479.4,142.8 1477.1,144.2 1474.9,145.9 1472.8,147.7 1470.9,149.7 1468.9,151.8 1467,154 1465.1,156.3 1463.2,158.9 1461.4,161.5 1459.6,164.3 1457.8,167.1 1456.1,170 1454.3,172.8 1452.7,175.5 1451,178.1 1449.4,180.9 1447.8,183.6 1446.2,186.4 1444.6,189.3 1443.2,192.1 1441.8,195 1440.5,197.9 1439.4,200.8 1438.3,203.7 1437.2,206.7 1436.2,209.7 1435.2,212.7 1434.1,215.8 1433,219 1431.9,222 1430.8,225.1 1429.7,228.2 1428.5,231.4 1427.4,234.6 1426.2,237.8 1425.1,241.1 1424,244.4 1423,247.7 1422,251 1421.1,254.4 1420.2,257.9 1419.4,261.4 1418.6,264.9 1417.8,268.4 1417,271.9 1416.3,275.5 1415.6,279 1414.8,282.5 1414,286 1413.2,289.4 1412.3,292.8 1411.5,296.2 1410.6,299.6 1409.7,303 1408.9,306.4 1408.1,309.8 1407.3,313.2 1406.6,316.6 1406,320 1405.5,323.2 1405,326.4 1404.6,329.4 1404.2,332.4 1403.9,335.5 1403.6,338.7 1403.3,341.9 1403,345.4 1402.8,349.1 1402.5,353 1402.1,358.7 1401.8,364.7 1401.5,370.9 1401.3,377.5 1401,384.3 1400.8,391.4 1400.6,398.9 1400.4,406.7 1400.2,414.7 1400.1,423.2 1399.9,431.9 1399.8,441 1399.5,457.9 1399.3,476.8 1399.2,497.2 1399.1,518.9 1399,541.5 1399,564.8 1398.9,588.4 1398.9,611.9 1398.8,635.2 1398.8,657.9 1398.7,679.6 1398.5,700 1398.3,716.1 1398.1,731.4 1397.9,746.1 1397.7,760.4 1397.5,774.5 1397.2,788.5 1397,802.7 1396.7,817.3 1396.5,832.4 1396.3,848.3 1396.1,865.1 1396,883 1395.8,913.1 1395.7,945.6 1395.7,980 1395.6,1016.1 1395.7,1053.6 1395.7,1092 1395.8,1131.1 1395.8,1170.6 1395.9,1210 1395.9,1249.1 1396,1287.6 1396,1325 453,1325 453,1287.6 453.1,1249.1 453.1,1210 453.2,1170.6 453.2,1131.1 453.3,1092 453.3,1053.6 453.4,1016.1 453.3,980 453.3,945.6 453.2,913.1 453,883 452.9,865.1 452.7,848.3 452.5,832.4 452.3,817.3 452,802.7 451.8,788.5 451.5,774.5 451.3,760.4 451.1,746.1 450.9,731.4 450.7,716.1 450.5,700 450.3,679.6 450.2,657.9 450.2,635.2 450.1,611.9 450.1,588.4 450,564.8 450,541.5 449.9,518.9 449.8,497.2 449.7,476.8 449.5,457.9 449.2,441 449.1,431.9 448.9,423.2 448.8,414.7 448.6,406.7 448.4,398.9 448.2,391.4 448,384.3 447.7,377.5 447.5,370.9 447.2,364.7 446.9,358.7 446.5,353 446.2,349.1 446,345.4 445.7,341.9 445.4,338.7 445.1,335.5 444.8,332.4 444.4,329.4 444,326.4 443.5,323.2 443,320 442.4,316.6 441.7,313.2 440.9,309.8 440.1,306.4 439.3,303 438.4,299.6 437.5,296.2 436.7,292.8 435.8,289.4 435,286 434.2,282.5 433.4,279 432.7,275.5 432,271.9 431.2,268.4 430.4,264.9 429.6,261.4 428.8,257.9 427.9,254.4 427,251 426,247.7 425,244.4 423.9,241.1 422.8,237.8 421.6,234.6 420.5,231.4 419.3,228.2 418.2,225.1 417.1,222 416,219 414.9,215.8 413.8,212.7 412.8,209.7 411.8,206.7 410.7,203.7 409.6,200.8 408.5,197.9 407.2,195 405.8,192.1 404.4,189.3 402.8,186.4 401.2,183.6 399.6,180.9 398,178.1 396.3,175.5 394.7,172.8 392.9,170 391.2,167.1 389.4,164.3 387.6,161.5 385.8,158.9 383.9,156.3 382,154 380.1,151.8 378.1,149.7 376.2,147.7 374.1,145.9 371.9,144.2 369.6,142.8 367,141.5 364.2,140.4 361.3,139.5 358.3,138.8 355.2,138.3 352,138 349,137.9 345.9,138.1 342.8,138.4 339.5,138.8 336.2,139.4 332.8,140.1 329.3,140.8 325.8,141.5 322.6,142.2 319.4,142.9 316.1,143.6 312.8,144.4 309.4,145.3 306,146.2 302.5,147.2 299,148.2 295.4,149.3 291.8,150.4 288.2,151.5 284.2,152.8 280.2,154.2 276,155.6 271.8,157.1 267.5,158.7 263.2,160.3 258.9,161.9 254.6,163.5 250.4,165.2 246.2,166.9 242,168.6 238,170.3 234.2,171.9 230.2,173.6 226.2,175.3 222.2,177.1 218.2,178.9 214.2,180.7 210.4,182.5 206.8,184.2 203.5,185.9 200.5,187.5 197.8,189 195.5,190.4 193.1,192.2 191.3,193.8 189.7,195.4 188,197Z" fill="#19bfb6" stroke="#19bfb6" stroke-width="0.6"/>
<path d="M461.5,1325 461.5,1287.6 461.6,1249.1 461.7,1210 461.7,1170.6 461.8,1131.1 461.9,1092 462,1053.6 462,1016.1 462,980 461.9,945.6 461.7,913.1 461.5,883 461.3,865.1 461,848.3 460.8,832.4 460.5,817.3 460.1,802.7 459.8,788.5 459.4,774.5 459.1,760.4 458.8,746.1 458.5,731.4 458.2,716.1 458,700 457.8,679.6 457.7,657.9 457.6,635.2 457.5,611.9 457.5,588.4 457.5,564.8 457.4,541.5 457.4,518.9 457.3,497.2 457.2,476.8 457,457.9 456.8,441 456.6,432 456.5,423.5 456.4,415.4 456.3,407.8 456.2,400.4 456.1,393.3 455.9,386.4 455.7,379.7 455.4,373 455,366.4 454.6,359.8 454,353 453.4,347.1 452.8,341.3 452.1,335.6 451.4,329.9 450.6,324.4 449.8,318.9 448.9,313.4 447.9,307.9 447,302.5 445.9,297 444.8,291.5 443.7,286 442.4,280.3 441,274.4 439.5,268.4 437.9,262.4 436.2,256.3 434.5,250.4 432.8,244.5 431.2,238.8 429.7,233.4 428.3,228.2 427,223.4 425.9,219 425.1,215.4 424.4,212.2 423.8,209.2 423.3,206.4 422.8,203.6 422.3,200.9 421.7,198 421,195 420.3,191.9 419.6,188.8 418.9,185.6 418.1,182.4 417.3,179.2 416.5,175.9 415.6,172.8 414.6,169.6 413.5,166.6 412.3,163.7 411.1,160.8 409.7,158 408.3,155.3 406.8,152.5 405.4,149.8 403.9,147 402.4,144.3 401,141.5 399.4,138.3 397.8,135.2 396.1,132 394.5,128.8 392.8,125.6 391.3,122.5 389.8,119.5 388.4,116.5 387.1,113.7 385.9,110.8 384.7,108.1 383.6,105.3 382.6,102.7 381.7,100.1 380.9,97.7 379.8,94.6 378.6,91.7 378,88.9 378.4,86.4 379.8,84.4 382.1,82.7 385,81 388.3,79.5 391.6,78 394.7,76.4 397.5,74.9 400.3,73.5 403.2,72 406.2,70.6 409.2,69.2 412.1,67.8 415,66.5 417.7,65.3 420.4,64.1 423.1,63 425.8,61.8 428.5,60.7 431.2,59.6 434,58.5 436.9,57.3 439.8,56.1 442.8,54.9 445.8,53.7 448.8,52.6 451.9,51.5 455,50.5 458,49.6 461,48.7 464.1,47.9 467.2,47.2 470.4,46.4 473.6,45.7 476.8,45.1 480,44.5 483,44 485.9,43.5 488.8,43.1 491.8,42.8 494.8,42.4 497.9,42.1 501.1,41.8 504.5,41.6 508,41.3 512,41 516.2,40.8 520.7,40.6 525.4,40.4 530.2,40.3 535,40.1 539.9,40 544.8,39.9 549.6,39.8 554.2,39.7 558.7,39.6 563,39.5 566.6,39.4 570,39.3 573.2,39.2 576.3,39.2 579.4,39.1 582.5,39 585.7,38.9 589,38.9 592.4,38.8 596.1,38.8 600,38.7 606,38.6 612.4,38.6 619.1,38.5 626.2,38.4 633.5,38.4 641,38.4 648.7,38.3 656.5,38.3 664.4,38.2 672.3,38.2 680.2,38.1 688,38 696.8,37.9 705.8,37.7 714.9,37.6 724.1,37.4 733.4,37.3 742.8,37.1 752.2,36.9 761.7,36.8 771.3,36.6 780.8,36.4 790.4,36.3 800,36.2 810.1,36.1 820.4,36 830.7,35.9 841,35.8 851.4,35.8 861.8,35.7 872.3,35.6 882.8,35.6 893.2,35.5 903.7,35.5 914.1,35.5 924.5,35.5 934.9,35.5 945.3,35.5 955.8,35.5 966.2,35.6 976.7,35.6 987.2,35.7 997.6,35.8 1008,35.8 1018.3,35.9 1028.6,36 1038.9,36.1 1049,36.2 1058.6,36.3 1068.2,36.4 1077.7,36.6 1087.3,36.8 1096.8,36.9 1106.2,37.1 1115.6,37.3 1124.9,37.4 1134.1,37.6 1143.2,37.7 1152.2,37.9 1161,38 1168.8,38.1 1176.7,38.2 1184.6,38.2 1192.5,38.3 1200.3,38.3 1208,38.4 1215.5,38.4 1222.8,38.4 1229.9,38.5 1236.6,38.6 1243,38.6 1249,38.7 1252.9,38.8 1256.6,38.8 1260,38.9 1263.3,38.9 1266.5,39 1269.6,39.1 1272.7,39.2 1275.8,39.2 1279,39.3 1282.4,39.4 1286,39.5 1290.3,39.6 1294.8,39.7 1299.4,39.8 1304.2,39.9 1309.1,40 1314,40.1 1318.8,40.3 1323.6,40.4 1328.3,40.6 1332.8,40.8 1337,41 1341,41.3 1344.5,41.6 1347.9,41.8 1351.1,42.1 1354.2,42.4 1357.2,42.8 1360.2,43.1 1363.1,43.5 1366,44 1369,44.5 1372.2,45.1 1375.4,45.8 1378.6,46.5 1381.8,47.2 1384.9,48 1388,48.8 1391,49.7 1394,50.5 1397.1,51.4 1400.1,52.4 1403.1,53.4 1406.1,54.4 1409,55.4 1412,56.4 1415,57.5 1418.1,58.6 1421.2,59.7 1424.4,60.8 1427.5,62 1430.6,63.1 1433.8,64.3 1437,65.5 1440,66.6 1443.1,67.7 1446.2,68.9 1449.3,70 1452.3,71.2 1455.3,72.4 1458.2,73.7 1461,75 1464.2,76.5 1467.6,78 1470.9,79.5 1473.8,81.2 1476.1,83 1477.5,85 1477.9,87.2 1477.5,89.7 1476.7,92.3 1475.6,95 1474.5,97.7 1473.6,100.2 1472.5,102.8 1471.4,105.4 1470.1,108.1 1468.8,110.9 1467.4,113.7 1466,116.5 1464.6,119.1 1463.2,121.8 1461.7,124.6 1460.1,127.4 1458.5,130.2 1456.8,133 1455.2,135.9 1453.6,138.7 1452,141.5 1450.4,144.3 1448.8,147 1447.1,149.8 1445.5,152.5 1443.9,155.3 1442.3,158 1440.8,160.8 1439.3,163.7 1438,166.6 1436.8,169.6 1435.6,172.8 1434.5,175.9 1433.5,179.1 1432.5,182.4 1431.6,185.6 1430.7,188.8 1429.9,191.9 1429,195 1428.2,198 1427.5,200.8 1426.8,203.6 1426.1,206.4 1425.5,209.2 1424.8,212.2 1424,215.4 1423.1,219 1421.9,223.4 1420.6,228.2 1419.2,233.4 1417.6,238.8 1416,244.5 1414.4,250.4 1412.7,256.3 1411.1,262.4 1409.5,268.4 1408,274.4 1406.6,280.3 1405.3,286 1404.2,291.5 1403.1,297 1402,302.5 1401.1,307.9 1400.1,313.4 1399.2,318.9 1398.4,324.4 1397.6,329.9 1396.9,335.6 1396.2,341.3 1395.6,347.1 1395,353 1394.4,359.8 1394,366.4 1393.6,373 1393.3,379.7 1393.1,386.4 1392.9,393.3 1392.8,400.4 1392.7,407.8 1392.6,415.4 1392.5,423.5 1392.4,432 1392.2,441 1392,457.9 1391.8,476.8 1391.7,497.2 1391.6,518.9 1391.6,541.5 1391.5,564.8 1391.5,588.4 1391.5,611.9 1391.4,635.2 1391.3,657.9 1391.2,679.6 1391,700 1390.8,716.1 1390.5,731.4 1390.2,746.1 1389.9,760.4 1389.6,774.5 1389.2,788.5 1388.9,802.7 1388.5,817.3 1388.2,832.4 1388,848.3 1387.7,865.1 1387.5,883 1387.3,913.1 1387.1,945.6 1387,980 1387,1016.1 1387,1053.6 1387.1,1092 1387.2,1131.1 1387.3,1170.6 1387.3,1210 1387.4,1249.1 1387.5,1287.6 1387.5,1325Z" fill="#01b8ca" stroke="#01b8ca" stroke-width="0.6"/>
<path d="M187,106 189.7,105.3 192.4,104.6 195.2,103.9 198.2,103.1 200.8,102.5 203.5,101.8 206.4,101 209.3,100.3 212.4,99.6 215.4,98.9 218.5,98.2 221.4,97.6 224.5,97 227.5,96.4 230.6,95.9 233.7,95.3 236.8,94.9 239.9,94.4 243,94.1 246,93.8 249.1,93.6 252.1,93.4 255.1,93.3 258.2,93.2 261.2,93.2 264.3,93.2 267.3,93.3 270.4,93.4 273.5,93.7 276.6,93.9 279.7,94.3 282.8,94.6 285.8,95 288.8,95.4 291.7,95.8 295.5,96.2 299.7,96.5 303.8,96.8 307.4,97.3 310,98 311.2,99 310.7,100.5 308.7,102.5 305.9,104.6 302.8,106.7 299.8,108.8 297.3,110.6 294.5,112.4 291.6,114.2 288.6,115.9 285.5,117.7 282.5,119.4 279.5,121 276.6,122.5 273.8,123.9 270.9,125.3 268.1,126.7 265.2,128 262.2,129.3 259.2,130.7 256.3,132 253.3,133.4 250.2,134.8 247.2,136.1 244.1,137.5 241,138.8 237.9,140.1 234.8,141.3 231.8,142.4 228.7,143.5 225.7,144.5 222.6,145.5 219.5,146.4 216.5,147.4 213.4,148.4 210.4,149.4 207.4,150.4 204.5,151.5 201.6,152.6 198.7,153.7 195.7,154.7 192.8,155.8 189.9,156.9 187,158Z" fill="#01b8ca" stroke="#01b8ca" stroke-width="0.6"/>
<path d="M1662,90 1659.5,90 1657.1,90.1 1654.7,90.1 1652,90.1 1649,90.2 1646.3,90.3 1643.4,90.4 1640.3,90.5 1637,90.6 1633.5,90.7 1630,90.8 1626.3,90.9 1622.6,91 1618.8,91.2 1615.1,91.3 1611.4,91.4 1607.4,91.5 1603.3,91.6 1599.1,91.7 1594.8,91.8 1590.4,91.8 1586.1,91.9 1581.7,92 1577.4,92.1 1573.2,92.2 1569.1,92.4 1565.1,92.5 1561.3,92.7 1557.4,92.9 1553.4,93.1 1549.5,93.2 1545.7,93.4 1542.1,93.6 1538.6,93.9 1535.4,94.2 1532.5,94.7 1530,95.2 1527.2,95.9 1524.6,96.8 1522.7,97.7 1521.8,98.9 1522.4,100.5 1524.3,102.4 1527,104.4 1530,106.4 1532.3,107.9 1534.8,109.4 1537.7,111 1540.8,112.6 1544.1,114.3 1547.5,115.9 1551,117.6 1554.5,119.3 1558,121 1561.3,122.7 1564.3,124.2 1567.4,125.8 1570.4,127.4 1573.6,129 1576.7,130.6 1579.8,132.2 1583,133.8 1586.2,135.4 1589.4,136.9 1592.6,138.5 1595.7,140 1598.9,141.5 1602,143 1605.2,144.4 1608.4,145.9 1611.6,147.4 1614.8,148.8 1618,150.3 1621.2,151.7 1624.4,153 1627.5,154.3 1630.5,155.6 1633.5,156.7 1636.4,157.8 1639.8,159 1643.1,160 1646.3,161 1649.5,161.9 1652.6,162.7 1655.7,163.5 1658.8,164.4 1662,165.3Z" fill="#01b8ca" stroke="#01b8ca" stroke-width="0.6"/>
<path d="M470,1325 470,1287.6 470.1,1249.1 470.1,1210 470.2,1170.6 470.3,1131.1 470.4,1092 470.4,1053.6 470.5,1016.1 470.4,980 470.4,945.6 470.2,913.1 470,883 469.8,865.1 469.6,848.3 469.3,832.4 469,817.3 468.7,802.7 468.4,788.5 468.1,774.5 467.8,760.4 467.5,746.1 467.2,731.4 467,716.1 466.8,700 466.6,679.6 466.4,657.9 466.3,635.2 466.3,611.9 466.2,588.4 466.2,564.8 466.1,541.5 466.1,518.9 466,497.2 465.9,476.8 465.7,457.9 465.5,441 465.4,432 465.2,423.5 465.1,415.5 465,407.8 464.9,400.4 464.8,393.3 464.6,386.4 464.4,379.7 464.2,373.1 463.8,366.4 463.5,359.8 463,353 462.5,347.1 462.1,341.3 461.6,335.6 461,329.9 460.4,324.4 459.8,318.9 459.2,313.4 458.4,307.9 457.7,302.5 456.8,297 456,291.5 455,286 453.9,280.3 452.7,274.4 451.3,268.4 449.8,262.4 448.3,256.3 446.8,250.4 445.2,244.5 443.8,238.8 442.4,233.4 441.1,228.2 440,223.4 439,219 438.3,215.5 437.7,212.3 437.2,209.4 436.8,206.7 436.4,204 436,201.2 435.5,198.3 435,195 434.5,191.8 433.9,188.4 433.4,184.8 432.8,181.1 432.2,177.2 431.6,173.4 430.9,169.5 430.3,165.7 429.7,162 429.1,158.5 428.6,155.1 428,152 427.3,148.4 426.7,145 426,141.8 425.4,138.7 424.7,135.7 424.2,132.8 423.6,130 423,127 422.3,124.3 421.8,121.6 421.3,118.9 421,116 420.8,113 420.7,109.8 420.8,106.6 421,103.3 421.4,100.1 422,97 422.8,94 423.9,91 425.1,88.1 426.5,85.3 428.2,82.7 430,80.5 432.3,78.5 435,76.9 437.8,75.6 440.9,74.3 444,73 446.8,71.8 449.7,70.6 452.7,69.4 455.8,68.2 459,67.1 462.3,66 465.6,65 468.5,64.2 471.6,63.4 474.6,62.6 477.7,61.9 480.9,61.2 484.1,60.5 487.4,59.8 490.7,59.2 494,58.5 497.1,57.9 500.2,57.3 503.3,56.7 506.5,56.2 509.8,55.6 513,55 516.3,54.5 519.6,54 522.9,53.5 526.3,53 529.6,52.5 532.9,52.1 536.1,51.6 539.4,51.2 542.7,50.8 546,50.4 549.4,50 552.7,49.7 556.1,49.3 559.5,49 563,48.6 566.5,48.3 570,48 574,47.7 577.9,47.4 581.9,47.1 586,46.8 590.1,46.5 594.2,46.3 598.3,46.1 602.6,45.8 606.8,45.6 611.2,45.4 615.5,45.2 620,45 625.2,44.8 630.5,44.6 635.9,44.4 641.3,44.2 646.7,44 652.3,43.9 657.9,43.7 663.7,43.6 669.6,43.4 675.6,43.3 681.7,43.1 688,43 696.3,42.8 705,42.7 713.9,42.5 723.1,42.4 732.4,42.2 741.9,42.1 751.5,42 761.2,41.9 770.9,41.8 780.7,41.7 790.4,41.6 800,41.5 810.1,41.4 820.4,41.3 830.7,41.3 841,41.2 851.4,41.2 861.8,41.1 872.3,41.1 882.8,41.1 893.2,41 903.7,41 914.1,41 924.5,41 934.9,41 945.3,41 955.8,41 966.2,41.1 976.7,41.1 987.2,41.1 997.6,41.2 1008,41.2 1018.3,41.3 1028.6,41.3 1038.9,41.4 1049,41.5 1058.6,41.6 1068.3,41.7 1078.1,41.8 1087.8,41.9 1097.5,42 1107.1,42.1 1116.6,42.2 1125.9,42.4 1135.1,42.5 1144,42.7 1152.7,42.8 1161,43 1167.3,43.1 1173.4,43.3 1179.4,43.4 1185.3,43.6 1191.1,43.7 1196.7,43.9 1202.3,44 1207.7,44.2 1213.1,44.4 1218.5,44.6 1223.8,44.8 1229,45 1233.5,45.2 1237.8,45.4 1242.2,45.6 1246.4,45.8 1250.7,46.1 1254.8,46.3 1258.9,46.5 1263,46.8 1267.1,47.1 1271.1,47.4 1275,47.7 1279,48 1282.5,48.3 1286,48.6 1289.5,49 1292.9,49.3 1296.3,49.7 1299.6,50 1303,50.4 1306.3,50.8 1309.6,51.2 1312.9,51.6 1316.1,52.1 1319.4,52.5 1322.7,53 1326.1,53.5 1329.4,54 1332.7,54.5 1336,55 1339.2,55.6 1342.5,56.2 1345.7,56.7 1348.8,57.3 1351.9,57.9 1355,58.5 1358.3,59.2 1361.6,59.8 1364.9,60.5 1368.1,61.2 1371.3,61.9 1374.4,62.6 1377.4,63.4 1380.5,64.2 1383.4,65 1386.7,66 1390,67.1 1393.2,68.2 1396.3,69.4 1399.3,70.6 1402.2,71.8 1405,73 1408.1,74.3 1411.2,75.6 1414,76.9 1416.7,78.5 1419,80.5 1420.8,82.7 1422.5,85.3 1423.9,88.1 1425.1,91 1426.2,94 1427,97 1427.6,100.1 1428,103.3 1428.2,106.6 1428.3,109.8 1428.2,113 1428,116 1427.7,118.9 1427.2,121.6 1426.7,124.3 1426,127 1425.4,130 1424.8,132.8 1424.3,135.7 1423.6,138.7 1423,141.8 1422.3,145 1421.7,148.4 1421,152 1420.4,155.1 1419.9,158.5 1419.3,162 1418.7,165.7 1418.1,169.5 1417.4,173.4 1416.8,177.2 1416.2,181.1 1415.6,184.8 1415.1,188.4 1414.5,191.8 1414,195 1413.5,198.3 1413,201.2 1412.6,204 1412.2,206.7 1411.8,209.4 1411.3,212.3 1410.7,215.5 1410,219 1409,223.4 1407.9,228.2 1406.6,233.4 1405.2,238.8 1403.8,244.5 1402.2,250.4 1400.7,256.3 1399.2,262.4 1397.7,268.4 1396.3,274.4 1395.1,280.3 1394,286 1393,291.5 1392.2,297 1391.3,302.5 1390.6,307.9 1389.8,313.4 1389.2,318.9 1388.6,324.4 1388,329.9 1387.4,335.6 1386.9,341.3 1386.5,347.1 1386,353 1385.5,359.8 1385.2,366.4 1384.8,373.1 1384.6,379.7 1384.4,386.4 1384.2,393.3 1384.1,400.4 1384,407.8 1383.9,415.5 1383.8,423.5 1383.6,432 1383.5,441 1383.3,457.9 1383.1,476.8 1383,497.2 1382.9,518.9 1382.9,541.5 1382.8,564.8 1382.8,588.4 1382.7,611.9 1382.7,635.2 1382.6,657.9 1382.4,679.6 1382.2,700 1382,716.1 1381.8,731.4 1381.5,746.1 1381.2,760.4 1380.9,774.5 1380.6,788.5 1380.3,802.7 1380,817.3 1379.7,832.4 1379.4,848.3 1379.2,865.1 1379,883 1378.8,913.1 1378.6,945.6 1378.6,980 1378.5,1016.1 1378.6,1053.6 1378.6,1092 1378.7,1131.1 1378.8,1170.6 1378.9,1210 1378.9,1249.1 1379,1287.6 1379,1325Z" fill="#18addb" stroke="#18addb" stroke-width="0.6"/>
<path d="M478.5,1325 478.5,1287.6 478.6,1249.1 478.6,1210 478.7,1170.6 478.8,1131.1 478.9,1092 478.9,1053.6 478.9,1016.1 478.9,980 478.8,945.6 478.7,913.1 478.5,883 478.3,865.1 478.1,848.3 477.9,832.4 477.6,817.3 477.3,802.7 477,788.5 476.7,774.5 476.5,760.4 476.2,746.1 475.9,731.4 475.7,716.1 475.5,700 475.3,679.2 475.1,656.7 475,632.9 474.8,608.2 474.7,583.3 474.6,558.5 474.5,534.4 474.4,511.5 474.4,490.2 474.3,471 474.3,454.4 474.2,441 474.2,436.5 474.2,432.6 474.2,429.1 474.2,425.9 474.2,423 474.2,420.2 474.2,417.4 474.2,414.6 474.2,411.7 474.2,408.5 474.2,405 474.3,400.4 474.5,395.5 474.7,390.3 474.9,385 475.1,379.6 475.4,374.1 475.6,368.6 475.7,363.2 475.9,357.8 475.9,352.6 475.9,347.7 475.8,343 475.6,339.2 475.4,335.5 475.2,331.9 474.9,328.4 474.6,325 474.3,321.6 473.9,318.3 473.4,315 472.9,311.7 472.4,308.3 471.8,305 471.1,301.8 470.3,298.5 469.4,295.4 468.5,292.2 467.6,289.1 466.6,286 465.6,282.8 464.6,279.7 463.6,276.5 462.7,273.3 461.8,270 460.9,266.8 460,263.5 459.1,260.1 458.2,256.8 457.4,253.4 456.5,250 455.6,246.6 454.8,243.3 454,239.9 453.2,236.6 452.5,233.3 451.8,230 451,226.4 450.3,223 449.6,219.5 448.9,216.1 448.3,212.7 447.7,209.3 447.1,205.8 446.6,202.3 446,198.7 445.6,195 445.1,191.3 444.6,187.6 444.2,183.7 443.8,179.8 443.4,175.8 443,171.8 442.7,167.8 442.5,163.8 442.2,159.8 442.1,155.8 442,151.9 442,148 442,144.3 442.1,140.6 442.2,136.8 442.3,133.1 442.4,129.3 442.7,125.6 443,121.9 443.4,118.3 443.8,114.8 444.4,111.4 445.1,108.1 446,105 447,101.7 448.2,98.5 449.4,95.4 450.7,92.4 452.2,89.5 453.9,86.7 455.7,84 457.7,81.4 460,79 462.4,76.8 465,74.7 467.7,72.7 470.7,70.8 473.8,69 477,67.3 480.4,65.7 483.9,64.2 487.5,62.7 491.2,61.3 495,60 499.6,58.5 504.3,57.2 509.1,56 514.2,54.9 519.4,54 524.7,53.1 530.2,52.3 535.8,51.6 541.6,50.9 547.6,50.2 553.7,49.6 560,49 569.2,48.2 578.9,47.6 589.1,47.2 599.8,46.9 610.7,46.6 621.8,46.5 633.1,46.4 644.4,46.3 655.6,46.3 666.7,46.2 677.5,46.1 688,46 697.6,45.9 707,45.7 716.4,45.6 725.7,45.5 734.9,45.4 744.1,45.4 753.3,45.3 762.5,45.2 771.8,45.2 781.1,45.1 790.5,45.1 800,45 810.1,44.9 820.4,44.9 830.7,44.8 841,44.8 851.4,44.7 861.8,44.7 872.3,44.6 882.8,44.6 893.2,44.5 903.7,44.5 914.1,44.5 924.5,44.5 934.9,44.5 945.3,44.5 955.8,44.5 966.2,44.6 976.7,44.6 987.2,44.7 997.6,44.7 1008,44.8 1018.3,44.8 1028.6,44.9 1038.9,44.9 1049,45 1058.5,45.1 1067.9,45.1 1077.2,45.2 1086.5,45.2 1095.7,45.3 1104.9,45.4 1114.1,45.4 1123.3,45.5 1132.6,45.6 1142,45.7 1151.4,45.9 1161,46 1171.5,46.1 1182.3,46.2 1193.4,46.3 1204.6,46.3 1215.9,46.4 1227.2,46.5 1238.3,46.6 1249.2,46.9 1259.9,47.2 1270.1,47.6 1279.8,48.2 1289,49 1295.3,49.6 1301.4,50.2 1307.4,50.9 1313.2,51.6 1318.8,52.3 1324.3,53.1 1329.6,54 1334.8,54.9 1339.9,56 1344.7,57.2 1349.4,58.5 1354,60 1357.8,61.3 1361.5,62.7 1365.1,64.2 1368.6,65.7 1372,67.3 1375.2,69 1378.3,70.8 1381.3,72.7 1384,74.7 1386.6,76.8 1389,79 1391.3,81.4 1393.3,84 1395.1,86.7 1396.8,89.5 1398.3,92.4 1399.6,95.4 1400.8,98.5 1402,101.7 1403,105 1403.9,108.1 1404.6,111.4 1405.2,114.8 1405.6,118.3 1406,121.9 1406.3,125.6 1406.6,129.3 1406.7,133.1 1406.8,136.8 1406.9,140.6 1407,144.3 1407,148 1407,151.9 1406.9,155.8 1406.8,159.8 1406.5,163.8 1406.3,167.8 1406,171.8 1405.6,175.8 1405.2,179.8 1404.8,183.7 1404.4,187.6 1403.9,191.3 1403.5,195 1403,198.7 1402.4,202.3 1401.9,205.8 1401.3,209.3 1400.7,212.7 1400.1,216.1 1399.4,219.5 1398.7,223 1398,226.4 1397.2,230 1396.5,233.3 1395.8,236.6 1395,239.9 1394.2,243.3 1393.4,246.6 1392.5,250 1391.6,253.4 1390.8,256.8 1389.9,260.1 1389,263.5 1388.1,266.8 1387.2,270 1386.3,273.3 1385.4,276.5 1384.4,279.7 1383.4,282.8 1382.4,286 1381.4,289.1 1380.5,292.2 1379.6,295.4 1378.7,298.5 1377.9,301.8 1377.2,305 1376.6,308.3 1376.1,311.7 1375.6,315 1375.1,318.3 1374.7,321.6 1374.4,325 1374.1,328.4 1373.8,331.9 1373.6,335.5 1373.4,339.2 1373.2,343 1373.1,347.7 1373.1,352.6 1373.1,357.8 1373.3,363.2 1373.4,368.6 1373.6,374.1 1373.9,379.6 1374.1,385 1374.3,390.3 1374.5,395.5 1374.7,400.4 1374.8,405 1374.8,408.5 1374.8,411.7 1374.8,414.6 1374.8,417.4 1374.8,420.2 1374.8,423 1374.8,425.9 1374.8,429.1 1374.8,432.6 1374.8,436.5 1374.8,441 1374.7,454.4 1374.7,471 1374.6,490.2 1374.6,511.5 1374.5,534.4 1374.4,558.5 1374.3,583.3 1374.2,608.2 1374,632.9 1373.9,656.7 1373.7,679.2 1373.5,700 1373.3,716.1 1373.1,731.4 1372.8,746.1 1372.5,760.4 1372.3,774.5 1372,788.5 1371.7,802.7 1371.4,817.3 1371.1,832.4 1370.9,848.3 1370.7,865.1 1370.5,883 1370.3,913.1 1370.2,945.6 1370.1,980 1370.1,1016.1 1370.1,1053.6 1370.1,1092 1370.2,1131.1 1370.3,1170.6 1370.4,1210 1370.4,1249.1 1370.5,1287.6 1370.5,1325Z" fill="#23a0e5" stroke="#23a0e5" stroke-width="0.6"/>
<path d="M487,1325 487,1287.6 487.1,1249.1 487.1,1210 487.2,1170.6 487.3,1131.1 487.4,1092 487.4,1053.6 487.4,1016.1 487.4,980 487.3,945.6 487.2,913.1 487,883 486.8,865.1 486.6,848.3 486.4,832.4 486.1,817.3 485.8,802.7 485.5,788.5 485.2,774.5 484.9,760.4 484.7,746.1 484.4,731.4 484.2,716.1 484,700 483.8,679.2 483.7,656.7 483.5,632.9 483.4,608.2 483.3,583.3 483.2,558.5 483.2,534.4 483.1,511.5 483.1,490.2 483.1,471 483,454.4 483,441 483,436.5 483,432.6 483,429.1 482.9,425.9 482.9,423 482.9,420.2 482.9,417.4 482.9,414.6 482.9,411.7 483,408.5 483,405 483.1,400.4 483.2,395.5 483.4,390.3 483.6,385 483.9,379.6 484.1,374.1 484.3,368.6 484.5,363.2 484.6,357.8 484.7,352.6 484.6,347.7 484.5,343 484.3,339.2 484.1,335.5 483.9,331.9 483.6,328.4 483.3,325 483,321.6 482.6,318.3 482.2,315 481.7,311.7 481.1,308.3 480.5,305 479.8,301.8 479,298.5 478.2,295.4 477.3,292.2 476.3,289.1 475.3,286 474.3,282.8 473.3,279.7 472.4,276.5 471.4,273.3 470.5,270 469.6,266.8 468.8,263.5 467.9,260.1 467,256.8 466.1,253.4 465.2,250 464.4,246.6 463.6,243.3 462.7,239.9 462,236.6 461.2,233.3 460.5,230 459.7,226.4 459,223 458.3,219.5 457.6,216.1 456.9,212.7 456.3,209.3 455.7,205.8 455.2,202.3 454.7,198.7 454.3,195 454,191.3 453.7,187.5 453.4,183.6 453.2,179.7 453,175.7 452.9,171.6 452.8,167.6 452.8,163.6 452.8,159.6 452.8,155.6 452.9,151.8 453,148 453.1,144.4 453.2,140.7 453.4,137.1 453.5,133.5 453.8,129.9 454,126.4 454.4,122.9 454.8,119.6 455.3,116.3 456,113.1 456.8,110 457.9,106.5 459,103.1 460.3,99.8 461.7,96.6 463.2,93.6 465,90.6 467,87.7 469.3,85 471.4,82.8 473.7,80.7 476.1,78.6 478.8,76.6 481.5,74.8 484.4,72.9 487.4,71.2 490.6,69.5 493.8,68 497.2,66.4 500.6,65 504.9,63.4 509.3,61.9 514,60.6 518.8,59.4 523.7,58.3 528.9,57.3 534.2,56.4 539.6,55.5 545.3,54.8 551,54 556.9,53.3 563,52.6 571.9,51.7 581.4,51 591.3,50.5 601.7,50.1 612.3,49.8 623.2,49.6 634.2,49.5 645.2,49.4 656.2,49.3 667.1,49.2 677.7,49.1 688,49 697.5,48.8 707,48.7 716.3,48.6 725.6,48.6 734.8,48.5 744,48.5 753.2,48.4 762.5,48.4 771.7,48.4 781.1,48.4 790.5,48.3 800,48.3 810.1,48.3 820.4,48.2 830.7,48.2 841,48.1 851.4,48.1 861.8,48.1 872.3,48.1 882.8,48 893.2,48 903.7,48 914.1,48 924.5,48 934.9,48 945.3,48 955.8,48 966.2,48 976.7,48.1 987.2,48.1 997.6,48.1 1008,48.1 1018.3,48.2 1028.6,48.2 1038.9,48.3 1049,48.3 1058.5,48.3 1067.9,48.4 1077.3,48.4 1086.5,48.4 1095.8,48.4 1105,48.5 1114.2,48.5 1123.4,48.6 1132.7,48.6 1142,48.7 1151.5,48.8 1161,49 1171.3,49.1 1181.9,49.2 1192.8,49.3 1203.8,49.4 1214.8,49.5 1225.8,49.6 1236.7,49.8 1247.3,50.1 1257.7,50.5 1267.6,51 1277.1,51.7 1286,52.6 1292.1,53.3 1298,54 1303.7,54.8 1309.4,55.5 1314.8,56.4 1320.1,57.3 1325.3,58.3 1330.2,59.4 1335,60.6 1339.7,61.9 1344.1,63.4 1348.4,65 1351.8,66.4 1355.2,68 1358.4,69.5 1361.6,71.2 1364.6,72.9 1367.5,74.8 1370.2,76.6 1372.9,78.6 1375.3,80.7 1377.6,82.8 1379.7,85 1382,87.7 1384,90.6 1385.8,93.6 1387.3,96.6 1388.7,99.8 1390,103.1 1391.1,106.5 1392.2,110 1393,113.1 1393.7,116.3 1394.2,119.6 1394.6,122.9 1395,126.4 1395.2,129.9 1395.5,133.5 1395.6,137.1 1395.8,140.7 1395.9,144.4 1396,148 1396.1,151.8 1396.2,155.6 1396.2,159.6 1396.2,163.6 1396.2,167.6 1396.1,171.6 1396,175.7 1395.8,179.7 1395.6,183.6 1395.3,187.5 1395,191.3 1394.7,195 1394.3,198.7 1393.8,202.3 1393.3,205.8 1392.7,209.3 1392.1,212.7 1391.4,216.1 1390.7,219.5 1390,223 1389.3,226.4 1388.5,230 1387.8,233.3 1387,236.6 1386.3,239.9 1385.4,243.3 1384.6,246.6 1383.8,250 1382.9,253.4 1382,256.8 1381.1,260.1 1380.2,263.5 1379.4,266.8 1378.5,270 1377.6,273.3 1376.6,276.5 1375.7,279.7 1374.7,282.8 1373.7,286 1372.7,289.1 1371.7,292.2 1370.8,295.4 1370,298.5 1369.2,301.8 1368.5,305 1367.9,308.3 1367.3,311.7 1366.8,315 1366.4,318.3 1366,321.6 1365.7,325 1365.4,328.4 1365.1,331.9 1364.9,335.5 1364.7,339.2 1364.5,343 1364.4,347.7 1364.3,352.6 1364.4,357.8 1364.5,363.2 1364.7,368.6 1364.9,374.1 1365.1,379.6 1365.4,385 1365.6,390.3 1365.8,395.5 1365.9,400.4 1366,405 1366,408.5 1366.1,411.7 1366.1,414.6 1366.1,417.4 1366.1,420.2 1366.1,423 1366.1,425.9 1366,429.1 1366,432.6 1366,436.5 1366,441 1366,454.4 1365.9,471 1365.9,490.2 1365.9,511.5 1365.8,534.4 1365.8,558.5 1365.7,583.3 1365.6,608.2 1365.5,632.9 1365.3,656.7 1365.2,679.2 1365,700 1364.8,716.1 1364.6,731.4 1364.3,746.1 1364.1,760.4 1363.8,774.5 1363.5,788.5 1363.2,802.7 1362.9,817.3 1362.6,832.4 1362.4,848.3 1362.2,865.1 1362,883 1361.8,913.1 1361.7,945.6 1361.6,980 1361.6,1016.1 1361.6,1053.6 1361.6,1092 1361.7,1131.1 1361.8,1170.6 1361.9,1210 1361.9,1249.1 1362,1287.6 1362,1325Z" fill="#2b91ef" stroke="#2b91ef" stroke-width="0.6"/>
<path d="M495,1325 495,1287.6 495.1,1249.1 495.1,1210 495.2,1170.6 495.3,1131.1 495.4,1092 495.4,1053.6 495.4,1016.1 495.4,980 495.3,945.6 495.2,913.1 495,883 494.8,865.1 494.6,848.3 494.4,832.4 494.1,817.3 493.8,802.7 493.5,788.5 493.2,774.5 492.9,760.4 492.6,746.1 492.4,731.4 492.2,716.1 492,700 491.9,679.2 491.7,656.7 491.7,632.9 491.6,608.2 491.6,583.3 491.6,558.5 491.6,534.4 491.7,511.5 491.7,490.2 491.7,471 491.7,454.4 491.8,441 491.7,436.5 491.7,432.6 491.7,429.1 491.7,425.9 491.7,423 491.7,420.2 491.7,417.4 491.7,414.6 491.7,411.7 491.7,408.5 491.8,405 491.8,400.4 492,395.5 492.2,390.3 492.4,385 492.6,379.6 492.9,374.1 493.1,368.6 493.2,363.2 493.4,357.8 493.4,352.6 493.4,347.7 493.2,343 493.1,339.2 492.9,335.5 492.7,331.9 492.4,328.4 492.1,325 491.8,321.6 491.4,318.3 490.9,315 490.4,311.7 489.9,308.3 489.2,305 488.6,301.8 487.8,298.5 486.9,295.4 486,292.2 485.1,289.1 484.1,286 483.1,282.8 482.1,279.7 481.1,276.5 480.2,273.3 479.2,270 478.4,266.8 477.5,263.5 476.6,260.1 475.7,256.8 474.9,253.4 474,250 473.1,246.6 472.3,243.3 471.5,239.9 470.7,236.6 470,233.3 469.2,230 468.5,226.4 467.7,223 467,219.5 466.3,216.1 465.7,212.7 465,209.3 464.5,205.8 463.9,202.3 463.5,198.7 463.1,195 462.7,191.3 462.4,187.5 462.2,183.6 462,179.7 461.8,175.7 461.7,171.6 461.6,167.6 461.6,163.6 461.6,159.6 461.7,155.6 461.8,151.8 462,148 462.2,144.3 462.4,140.6 462.6,137 462.9,133.3 463.2,129.7 463.6,126.1 464.1,122.6 464.6,119.2 465.3,116 466.1,112.9 467,110 468.3,106.7 469.6,103.6 471.1,100.7 472.8,97.9 474.6,95.2 476.7,92.6 479,90 481.1,87.8 483.4,85.6 485.9,83.4 488.5,81.2 491.2,79.2 494.1,77.1 497.2,75.2 500.3,73.4 503.6,71.6 507,70 510.8,68.4 514.8,66.9 518.9,65.5 523.2,64.3 527.6,63.1 532.2,62.1 536.9,61.1 541.8,60.2 546.8,59.3 552.1,58.5 557.4,57.8 563,57 571.7,56 581,55.2 590.9,54.5 601.2,54 611.8,53.7 622.8,53.4 633.8,53.2 645,53 656,52.9 667,52.8 677.7,52.7 688,52.5 697.5,52.3 707,52.2 716.3,52.2 725.6,52.1 734.8,52.1 744,52.1 753.2,52.1 762.5,52.1 771.7,52.2 781.1,52.2 790.5,52.2 800,52.2 810.1,52.2 820.4,52.2 830.7,52.1 841,52.1 851.4,52.1 861.8,52.1 872.3,52 882.8,52 893.2,52 903.7,52 914.1,52 924.5,52 934.9,52 945.3,52 955.8,52 966.2,52 976.7,52 987.2,52.1 997.6,52.1 1008,52.1 1018.3,52.1 1028.6,52.2 1038.9,52.2 1049,52.2 1058.5,52.2 1067.9,52.2 1077.3,52.2 1086.5,52.1 1095.8,52.1 1105,52.1 1114.2,52.1 1123.4,52.1 1132.7,52.2 1142,52.2 1151.5,52.3 1161,52.5 1171.3,52.7 1182,52.8 1193,52.9 1204,53 1215.2,53.2 1226.2,53.4 1237.2,53.7 1247.8,54 1258.1,54.5 1268,55.2 1277.3,56 1286,57 1291.6,57.8 1296.9,58.5 1302.2,59.3 1307.2,60.2 1312.1,61.1 1316.8,62.1 1321.4,63.1 1325.8,64.3 1330.1,65.5 1334.2,66.9 1338.2,68.4 1342,70 1345.4,71.6 1348.7,73.4 1351.8,75.2 1354.9,77.1 1357.8,79.2 1360.5,81.2 1363.1,83.4 1365.6,85.6 1367.9,87.8 1370,90 1372.3,92.6 1374.4,95.2 1376.2,97.9 1377.9,100.7 1379.4,103.6 1380.7,106.7 1382,110 1382.9,112.9 1383.7,116 1384.4,119.2 1384.9,122.6 1385.4,126.1 1385.8,129.7 1386.1,133.3 1386.4,137 1386.6,140.6 1386.8,144.3 1387,148 1387.2,151.8 1387.3,155.6 1387.4,159.6 1387.4,163.6 1387.4,167.6 1387.3,171.6 1387.2,175.7 1387,179.7 1386.8,183.6 1386.6,187.5 1386.3,191.3 1386,195 1385.5,198.7 1385.1,202.3 1384.5,205.8 1384,209.3 1383.3,212.7 1382.7,216.1 1382,219.5 1381.3,223 1380.5,226.4 1379.8,230 1379,233.3 1378.3,236.6 1377.5,239.9 1376.7,243.3 1375.9,246.6 1375,250 1374.1,253.4 1373.3,256.8 1372.4,260.1 1371.5,263.5 1370.6,266.8 1369.8,270 1368.8,273.3 1367.9,276.5 1366.9,279.7 1365.9,282.8 1364.9,286 1363.9,289.1 1363,292.2 1362.1,295.4 1361.2,298.5 1360.4,301.8 1359.8,305 1359.1,308.3 1358.6,311.7 1358.1,315 1357.6,318.3 1357.2,321.6 1356.9,325 1356.6,328.4 1356.3,331.9 1356.1,335.5 1355.9,339.2 1355.8,343 1355.6,347.7 1355.6,352.6 1355.6,357.8 1355.8,363.2 1355.9,368.6 1356.1,374.1 1356.4,379.6 1356.6,385 1356.8,390.3 1357,395.5 1357.2,400.4 1357.2,405 1357.3,408.5 1357.3,411.7 1357.3,414.6 1357.3,417.4 1357.3,420.2 1357.3,423 1357.3,425.9 1357.3,429.1 1357.3,432.6 1357.3,436.5 1357.2,441 1357.3,454.4 1357.3,471 1357.3,490.2 1357.3,511.5 1357.4,534.4 1357.4,558.5 1357.4,583.3 1357.4,608.2 1357.3,632.9 1357.3,656.7 1357.1,679.2 1357,700 1356.8,716.1 1356.6,731.4 1356.4,746.1 1356.1,760.4 1355.8,774.5 1355.5,788.5 1355.2,802.7 1354.9,817.3 1354.6,832.4 1354.4,848.3 1354.2,865.1 1354,883 1353.8,913.1 1353.7,945.6 1353.6,980 1353.6,1016.1 1353.6,1053.6 1353.6,1092 1353.7,1131.1 1353.8,1170.6 1353.9,1210 1353.9,1249.1 1354,1287.6 1354,1325Z" fill="#2e87f7" stroke="#2e87f7" stroke-width="0.6"/>
<path d="M503,1325 503,1287.6 503.1,1249.1 503.1,1210 503.2,1170.6 503.2,1131.1 503.3,1092 503.3,1053.6 503.4,1016.1 503.3,980 503.3,945.6 503.2,913.1 503,883 502.9,865.1 502.7,848.3 502.5,832.4 502.2,817.3 502,802.7 501.7,788.5 501.5,774.5 501.2,760.4 501,746.1 500.8,731.4 500.6,716.1 500.5,700 500.4,679.2 500.3,656.7 500.3,632.9 500.3,608.2 500.3,583.3 500.3,558.5 500.3,534.4 500.4,511.5 500.4,490.2 500.5,471 500.5,454.4 500.5,441 500.5,436.5 500.5,432.6 500.5,429.1 500.5,425.9 500.4,423 500.4,420.2 500.4,417.4 500.4,414.6 500.4,411.7 500.5,408.5 500.5,405 500.6,400.4 500.7,395.5 500.9,390.3 501.1,385 501.4,379.6 501.6,374.1 501.8,368.6 502,363.2 502.1,357.8 502.2,352.6 502.1,347.7 502,343 501.8,339.2 501.6,335.5 501.4,331.9 501.1,328.4 500.8,325 500.5,321.6 500.1,318.3 499.7,315 499.2,311.7 498.6,308.3 498,305 497.3,301.8 496.5,298.5 495.7,295.4 494.8,292.2 493.8,289.1 492.8,286 491.8,282.8 490.8,279.7 489.9,276.5 488.9,273.3 488,270 487.1,266.8 486.3,263.5 485.4,260.1 484.5,256.8 483.6,253.4 482.7,250 481.9,246.6 481.1,243.3 480.2,239.9 479.5,236.6 478.7,233.3 478,230 477.2,226.4 476.5,223 475.7,219.5 475,216.1 474.3,212.7 473.7,209.3 473.1,205.8 472.6,202.3 472.2,198.7 471.8,195 471.5,191.3 471.3,187.5 471.1,183.6 471,179.7 471,175.7 471,171.6 471,167.6 471.1,163.5 471.3,159.6 471.5,155.6 471.7,151.8 472,148 472.3,144.3 472.6,140.7 472.8,137 473.2,133.3 473.5,129.7 474,126.2 474.5,122.7 475.2,119.3 476,116.1 476.9,113 478,110 479.5,106.7 481.1,103.6 482.9,100.7 484.9,97.9 487,95.2 489.3,92.6 491.8,90.1 494.4,87.7 496.9,85.6 499.6,83.5 502.5,81.5 505.5,79.6 508.6,77.8 511.8,76.1 515.2,74.4 518.6,72.9 522.1,71.4 525.7,70 529.3,68.7 533,67.6 536.8,66.5 540.7,65.5 544.6,64.6 548.7,63.8 552.9,63.1 557.2,62.4 561.6,61.8 566.3,61.2 571,60.6 576,60 583.8,59.2 592.1,58.7 600.8,58.2 610,57.9 619.5,57.6 629.2,57.5 639.1,57.3 649,57.3 658.9,57.2 668.8,57.2 678.5,57.1 688,57 697.3,56.9 706.6,56.8 715.9,56.7 725.1,56.7 734.4,56.7 743.6,56.7 752.9,56.7 762.2,56.7 771.6,56.7 781,56.7 790.5,56.7 800,56.7 810.1,56.7 820.4,56.7 830.7,56.6 841,56.6 851.4,56.6 861.8,56.6 872.3,56.5 882.8,56.5 893.2,56.5 903.7,56.5 914.1,56.5 924.5,56.5 934.9,56.5 945.3,56.5 955.8,56.5 966.2,56.5 976.7,56.5 987.2,56.6 997.6,56.6 1008,56.6 1018.3,56.6 1028.6,56.7 1038.9,56.7 1049,56.7 1058.5,56.7 1068,56.7 1077.4,56.7 1086.8,56.7 1096.1,56.7 1105.4,56.7 1114.6,56.7 1123.9,56.7 1133.1,56.7 1142.4,56.8 1151.7,56.9 1161,57 1170.5,57.1 1180.2,57.2 1190.1,57.2 1200,57.3 1209.9,57.3 1219.8,57.5 1229.5,57.6 1239,57.9 1248.2,58.2 1256.9,58.7 1265.2,59.2 1273,60 1278,60.6 1282.7,61.2 1287.4,61.8 1291.8,62.4 1296.1,63.1 1300.3,63.8 1304.4,64.6 1308.3,65.5 1312.2,66.5 1316,67.6 1319.7,68.7 1323.3,70 1326.9,71.4 1330.4,72.9 1333.8,74.4 1337.2,76.1 1340.4,77.8 1343.5,79.6 1346.5,81.5 1349.4,83.5 1352.1,85.6 1354.6,87.7 1357.2,90.1 1359.7,92.6 1362,95.2 1364.1,97.9 1366.1,100.7 1367.9,103.6 1369.5,106.7 1371,110 1372.1,113 1373,116.1 1373.8,119.3 1374.5,122.7 1375,126.2 1375.5,129.7 1375.8,133.3 1376.2,137 1376.4,140.7 1376.7,144.3 1377,148 1377.3,151.8 1377.5,155.6 1377.7,159.6 1377.9,163.5 1378,167.6 1378,171.6 1378,175.7 1378,179.7 1377.9,183.6 1377.7,187.5 1377.5,191.3 1377.2,195 1376.8,198.7 1376.4,202.3 1375.9,205.8 1375.3,209.3 1374.7,212.7 1374,216.1 1373.3,219.5 1372.5,223 1371.8,226.4 1371,230 1370.3,233.3 1369.5,236.6 1368.8,239.9 1367.9,243.3 1367.1,246.6 1366.3,250 1365.4,253.4 1364.5,256.8 1363.6,260.1 1362.7,263.5 1361.9,266.8 1361,270 1360.1,273.3 1359.1,276.5 1358.2,279.7 1357.2,282.8 1356.2,286 1355.2,289.1 1354.2,292.2 1353.3,295.4 1352.5,298.5 1351.7,301.8 1351,305 1350.4,308.3 1349.8,311.7 1349.3,315 1348.9,318.3 1348.5,321.6 1348.2,325 1347.9,328.4 1347.6,331.9 1347.4,335.5 1347.2,339.2 1347,343 1346.9,347.7 1346.8,352.6 1346.9,357.8 1347,363.2 1347.2,368.6 1347.4,374.1 1347.6,379.6 1347.9,385 1348.1,390.3 1348.3,395.5 1348.4,400.4 1348.5,405 1348.5,408.5 1348.6,411.7 1348.6,414.6 1348.6,417.4 1348.6,420.2 1348.6,423 1348.5,425.9 1348.5,429.1 1348.5,432.6 1348.5,436.5 1348.5,441 1348.5,454.4 1348.5,471 1348.6,490.2 1348.6,511.5 1348.7,534.4 1348.7,558.5 1348.7,583.3 1348.7,608.2 1348.7,632.9 1348.7,656.7 1348.6,679.2 1348.5,700 1348.4,716.1 1348.2,731.4 1348,746.1 1347.8,760.4 1347.5,774.5 1347.3,788.5 1347,802.7 1346.8,817.3 1346.5,832.4 1346.3,848.3 1346.1,865.1 1346,883 1345.8,913.1 1345.7,945.6 1345.7,980 1345.6,1016.1 1345.7,1053.6 1345.7,1092 1345.8,1131.1 1345.8,1170.6 1345.9,1210 1345.9,1249.1 1346,1287.6 1346,1325Z" fill="#3875fe" stroke="#3875fe" stroke-width="0.6"/>
<path d="M513,1325 513,1287.6 513.1,1249.1 513.1,1210 513.2,1170.6 513.2,1131.1 513.3,1092 513.3,1053.6 513.4,1016.1 513.3,980 513.3,945.6 513.2,913.1 513,883 512.9,865.1 512.7,848.3 512.5,832.4 512.2,817.3 512,802.7 511.7,788.5 511.5,774.5 511.2,760.4 511,746.1 510.8,731.4 510.6,716.1 510.5,700 510.4,679.2 510.3,656.7 510.3,632.8 510.2,608.2 510.3,583.2 510.3,558.4 510.3,534.3 510.4,511.3 510.4,490 510.4,470.9 510.5,454.4 510.5,441 510.5,436.2 510.5,432 510.5,428.3 510.5,425 510.5,421.9 510.5,418.9 510.5,415.9 510.5,412.8 510.6,409.4 510.6,405.6 510.7,401 510.8,396 511,390.8 511.2,385.5 511.5,380 511.7,374.4 511.9,368.9 512,363.4 512.1,358 512.2,352.7 512.1,347.7 512,343 511.8,339.2 511.6,335.5 511.4,331.9 511.1,328.4 510.8,325 510.5,321.6 510.1,318.3 509.7,314.9 509.2,311.6 508.6,308.3 508,305 507.3,301.8 506.5,298.5 505.7,295.4 504.8,292.2 503.8,289.1 502.8,286 501.8,282.8 500.8,279.7 499.9,276.5 498.9,273.3 498,270 497.1,266.8 496.2,263.6 495.4,260.3 494.5,257.1 493.6,253.8 492.7,250.5 491.8,247.2 491,243.8 490.2,240.4 489.4,237 488.7,233.5 488,230 487.3,226 486.6,221.9 486,217.7 485.4,213.5 484.8,209.2 484.3,204.8 483.8,200.5 483.4,196.2 482.9,192 482.5,187.9 482.2,183.9 481.8,180 481.5,176.2 481.2,172.5 480.9,168.7 480.7,165.1 480.5,161.5 480.3,158 480.1,154.6 480,151.3 479.9,148.1 479.8,145 479.7,141.4 479.6,138 479.5,134.7 479.5,131.6 479.6,128.4 479.8,125.3 480.1,122.2 480.4,119.2 480.9,116.1 481.5,113.2 482.2,110.3 483.3,107.6 484.6,105.1 486.1,102.7 487.9,100.4 489.8,98.2 491.8,96 494,94 496.2,92.2 498.5,90.4 501,88.7 503.5,87.1 506.2,85.6 509,84.1 511.8,82.7 514.6,81.4 517.6,80.2 520.6,79 523.7,77.9 526.8,76.9 530.1,75.9 533.3,75 536.7,74.1 539.8,73.3 543,72.7 546.2,72 549.5,71.4 552.8,70.9 556.2,70.3 559.6,69.8 563,69.3 566.5,68.9 570,68.4 573.2,68 576.3,67.6 579.4,67.2 582.6,66.9 585.7,66.5 588.9,66.2 592.2,65.9 595.5,65.6 599,65.3 602.5,65 606.2,64.8 610,64.5 615.5,64.2 621.3,63.9 627.3,63.6 633.6,63.3 639.9,63.1 646.5,62.9 653.2,62.7 660,62.6 666.9,62.4 673.9,62.3 680.9,62.1 688,62 696.6,61.9 705.4,61.8 714.4,61.7 723.6,61.7 732.9,61.7 742.4,61.7 751.9,61.7 761.5,61.7 771.1,61.7 780.8,61.7 790.4,61.7 800,61.7 810.1,61.7 820.4,61.7 830.7,61.6 841,61.6 851.4,61.6 861.8,61.6 872.3,61.5 882.8,61.5 893.2,61.5 903.7,61.5 914.1,61.5 924.5,61.5 934.9,61.5 945.3,61.5 955.8,61.5 966.2,61.5 976.7,61.5 987.2,61.6 997.6,61.6 1008,61.6 1018.3,61.6 1028.6,61.7 1038.9,61.7 1049,61.7 1058.6,61.7 1068.2,61.7 1077.9,61.7 1087.5,61.7 1097.1,61.7 1106.6,61.7 1116.1,61.7 1125.4,61.7 1134.6,61.7 1143.6,61.8 1152.4,61.9 1161,62 1168.1,62.1 1175.1,62.3 1182.1,62.4 1189,62.6 1195.8,62.7 1202.5,62.9 1209.1,63.1 1215.4,63.3 1221.7,63.6 1227.7,63.9 1233.5,64.2 1239,64.5 1242.8,64.8 1246.5,65 1250,65.3 1253.5,65.6 1256.8,65.9 1260.1,66.2 1263.3,66.5 1266.4,66.9 1269.6,67.2 1272.7,67.6 1275.8,68 1279,68.4 1282.5,68.9 1286,69.3 1289.4,69.8 1292.8,70.3 1296.2,70.9 1299.5,71.4 1302.8,72 1306,72.7 1309.2,73.3 1312.3,74.1 1315.7,75 1318.9,75.9 1322.2,76.9 1325.3,77.9 1328.4,79 1331.4,80.2 1334.4,81.4 1337.2,82.7 1340,84.1 1342.8,85.6 1345.5,87.1 1348,88.7 1350.5,90.4 1352.8,92.2 1355,94 1357.2,96 1359.2,98.2 1361.1,100.4 1362.9,102.7 1364.4,105.1 1365.7,107.6 1366.8,110.3 1367.5,113.2 1368.1,116.1 1368.6,119.2 1368.9,122.2 1369.2,125.3 1369.4,128.4 1369.5,131.6 1369.5,134.7 1369.4,138 1369.3,141.4 1369.2,145 1369.1,148.1 1369,151.3 1368.9,154.6 1368.7,158 1368.5,161.5 1368.3,165.1 1368.1,168.7 1367.8,172.5 1367.5,176.2 1367.2,180 1366.8,183.9 1366.5,187.9 1366.1,192 1365.6,196.2 1365.2,200.5 1364.7,204.8 1364.2,209.2 1363.6,213.5 1363,217.7 1362.4,221.9 1361.7,226 1361,230 1360.3,233.5 1359.6,237 1358.8,240.4 1358,243.8 1357.2,247.2 1356.3,250.5 1355.4,253.8 1354.5,257.1 1353.6,260.3 1352.8,263.6 1351.9,266.8 1351,270 1350.1,273.3 1349.1,276.5 1348.2,279.7 1347.2,282.8 1346.2,286 1345.2,289.1 1344.2,292.2 1343.3,295.4 1342.5,298.5 1341.7,301.8 1341,305 1340.4,308.3 1339.8,311.6 1339.3,314.9 1338.9,318.3 1338.5,321.6 1338.2,325 1337.9,328.4 1337.6,331.9 1337.4,335.5 1337.2,339.2 1337,343 1336.9,347.7 1336.8,352.7 1336.9,358 1337,363.4 1337.1,368.9 1337.3,374.4 1337.5,380 1337.8,385.5 1338,390.8 1338.2,396 1338.3,401 1338.4,405.6 1338.4,409.4 1338.5,412.8 1338.5,415.9 1338.5,418.9 1338.5,421.9 1338.5,425 1338.5,428.3 1338.5,432 1338.5,436.2 1338.5,441 1338.5,454.4 1338.6,470.9 1338.6,490 1338.6,511.3 1338.7,534.3 1338.7,558.4 1338.7,583.2 1338.8,608.2 1338.7,632.8 1338.7,656.7 1338.6,679.2 1338.5,700 1338.4,716.1 1338.2,731.4 1338,746.1 1337.8,760.4 1337.5,774.5 1337.3,788.5 1337,802.7 1336.8,817.3 1336.5,832.4 1336.3,848.3 1336.1,865.1 1336,883 1335.8,913.1 1335.7,945.6 1335.7,980 1335.6,1016.1 1335.7,1053.6 1335.7,1092 1335.8,1131.1 1335.8,1170.6 1335.9,1210 1335.9,1249.1 1336,1287.6 1336,1325Z" fill="#4563fd" stroke="#4563fd" stroke-width="0.6"/>
<path d="M521,1325 521.1,1287.6 521.2,1249.1 521.3,1210 521.5,1170.6 521.6,1131.1 521.8,1092 521.9,1053.6 522,1016.1 522,980 522.1,945.6 522.1,913.1 522,883 521.9,865.1 521.8,848.3 521.7,832.4 521.5,817.3 521.3,802.7 521.1,788.5 521,774.5 520.8,760.4 520.7,746.1 520.6,731.4 520.5,716.1 520.5,700 520.6,679.2 520.7,656.7 520.9,632.8 521.1,608.2 521.4,583.2 521.6,558.4 521.9,534.3 522.2,511.3 522.5,490 522.7,470.9 522.9,454.4 523,441 523,436.2 523,432 523,428.3 523,425 523,421.9 523,418.9 523,415.9 523.1,412.8 523.1,409.4 523.2,405.6 523.3,401 523.5,396 523.8,390.8 524.1,385.5 524.4,380 524.7,374.4 525,368.9 525.2,363.3 525.5,357.9 525.6,352.7 525.7,347.7 525.7,343 525.7,339.2 525.6,335.6 525.6,332 525.5,328.5 525.4,325.1 525.2,321.8 525,318.5 524.7,315.2 524.3,312 523.8,308.7 523.2,305.4 522.4,302.1 521.5,298.9 520.4,295.7 519.3,292.6 518,289.5 516.8,286.3 515.5,283.2 514.2,280 512.9,276.8 511.7,273.6 510.6,270.3 509.6,267.1 508.5,263.8 507.5,260.6 506.5,257.3 505.5,254 504.5,250.7 503.6,247.3 502.7,243.9 501.8,240.5 500.9,237 500.1,233.5 499.4,230 498.6,226 497.9,221.9 497.2,217.7 496.6,213.5 496,209.2 495.5,204.8 495,200.5 494.5,196.2 494.1,192 493.7,187.9 493.3,183.9 493,180 492.7,176.2 492.5,172.3 492.3,168.5 492.1,164.7 492,161 492,157.4 491.9,154 491.9,150.8 491.9,147.8 491.9,145 492,142.1 492,139.6 492.2,137.4 492.3,135 492.6,132.5 492.9,129.7 493.1,126.6 493.4,123.5 493.8,120.4 494.5,117.5 495.4,114.7 496.8,111.9 498.4,109.2 500.3,106.7 502.4,104.3 504.7,101.9 506.8,100 509.2,98.1 511.7,96.3 514.3,94.6 517,92.9 519.8,91.3 522.5,89.8 525.4,88.3 528.3,86.8 531.3,85.4 534.3,84.1 537.4,82.8 540.6,81.6 543.8,80.5 546.9,79.5 549.9,78.6 553.1,77.7 556.3,76.9 559.5,76.2 562.9,75.4 566.4,74.8 570,74.1 573.2,73.6 576.4,73.1 579.8,72.6 583.2,72.2 586.7,71.8 590.3,71.4 593.9,71 597.6,70.7 601.5,70.4 605.4,70.1 609.3,69.8 613.4,69.5 618.9,69.2 624.5,68.9 630.3,68.7 636.2,68.5 642.3,68.3 648.5,68.2 654.8,68.1 661.3,68 667.8,67.9 674.5,67.8 681.2,67.7 688,67.6 696.5,67.5 705.3,67.4 714.3,67.3 723.4,67.3 732.8,67.3 742.2,67.3 751.8,67.2 761.4,67.2 771.1,67.2 780.7,67.2 790.4,67.2 800,67.2 810.1,67.2 820.4,67.1 830.7,67.1 841,67.1 851.4,67.1 861.8,67.1 872.3,67 882.8,67 893.2,67 903.7,67 914.1,67 924.5,67 934.9,67 945.3,67 955.8,67 966.2,67 976.7,67 987.2,67.1 997.6,67.1 1008,67.1 1018.3,67.1 1028.6,67.1 1038.9,67.2 1049,67.2 1058.6,67.2 1068.3,67.2 1077.9,67.2 1087.6,67.2 1097.2,67.2 1106.8,67.3 1116.2,67.3 1125.6,67.3 1134.7,67.3 1143.7,67.4 1152.5,67.5 1161,67.6 1167.8,67.7 1174.5,67.8 1181.2,67.9 1187.7,68 1194.2,68.1 1200.5,68.2 1206.7,68.3 1212.8,68.5 1218.7,68.7 1224.5,68.9 1230.1,69.2 1235.6,69.5 1239.7,69.8 1243.6,70.1 1247.5,70.4 1251.4,70.7 1255.1,71 1258.7,71.4 1262.3,71.8 1265.8,72.2 1269.2,72.6 1272.6,73.1 1275.8,73.6 1279,74.1 1282.6,74.8 1286.1,75.4 1289.5,76.2 1292.7,76.9 1295.9,77.7 1299.1,78.6 1302.1,79.5 1305.2,80.5 1308.4,81.6 1311.6,82.8 1314.7,84.1 1317.7,85.4 1320.7,86.8 1323.6,88.3 1326.5,89.8 1329.2,91.3 1332,92.9 1334.7,94.6 1337.3,96.3 1339.8,98.1 1342.2,100 1344.3,101.9 1346.6,104.3 1348.7,106.7 1350.6,109.2 1352.2,111.9 1353.6,114.7 1354.5,117.5 1355.2,120.4 1355.6,123.5 1355.9,126.6 1356.1,129.7 1356.4,132.5 1356.7,135 1356.8,137.4 1357,139.6 1357,142.1 1357.1,145 1357.1,147.8 1357.1,150.8 1357.1,154 1357,157.4 1357,161 1356.9,164.7 1356.7,168.5 1356.5,172.3 1356.3,176.2 1356,180 1355.7,183.9 1355.3,187.9 1354.9,192 1354.5,196.2 1354,200.5 1353.5,204.8 1353,209.2 1352.4,213.5 1351.8,217.7 1351.1,221.9 1350.4,226 1349.6,230 1348.9,233.5 1348.1,237 1347.2,240.5 1346.3,243.9 1345.4,247.3 1344.5,250.7 1343.5,254 1342.5,257.3 1341.5,260.6 1340.5,263.8 1339.4,267.1 1338.4,270.3 1337.3,273.6 1336.1,276.8 1334.8,280 1333.5,283.2 1332.2,286.3 1331,289.5 1329.7,292.6 1328.6,295.7 1327.5,298.9 1326.6,302.1 1325.8,305.4 1325.2,308.7 1324.7,312 1324.3,315.2 1324,318.5 1323.8,321.8 1323.6,325.1 1323.5,328.5 1323.4,332 1323.4,335.6 1323.3,339.2 1323.3,343 1323.3,347.7 1323.4,352.7 1323.5,357.9 1323.8,363.3 1324,368.9 1324.3,374.4 1324.6,380 1324.9,385.5 1325.2,390.8 1325.5,396 1325.7,401 1325.8,405.6 1325.9,409.4 1325.9,412.8 1326,415.9 1326,418.9 1326,421.9 1326,425 1326,428.3 1326,432 1326,436.2 1326,441 1326.1,454.4 1326.3,470.9 1326.5,490 1326.8,511.3 1327.1,534.3 1327.4,558.4 1327.6,583.2 1327.9,608.2 1328.1,632.8 1328.3,656.7 1328.4,679.2 1328.5,700 1328.5,716.1 1328.4,731.4 1328.3,746.1 1328.2,760.4 1328,774.5 1327.9,788.5 1327.7,802.7 1327.5,817.3 1327.3,832.4 1327.2,848.3 1327.1,865.1 1327,883 1326.9,913.1 1326.9,945.6 1327,980 1327,1016.1 1327.1,1053.6 1327.2,1092 1327.4,1131.1 1327.5,1170.6 1327.7,1210 1327.8,1249.1 1327.9,1287.6 1328,1325Z" fill="#4852f4" stroke="#4852f4" stroke-width="0.6"/>
<path d="M535,1325 535,1287.6 534.9,1249.1 534.9,1210 534.8,1170.6 534.7,1131.1 534.6,1092 534.6,1053.6 534.6,1016.1 534.6,980 534.7,945.6 534.9,913.1 535.2,883 535.4,865 535.7,848 536,831.9 536.4,816.4 536.7,801.5 537.1,787 537.5,772.8 537.9,758.7 538.3,744.5 538.6,730.1 539,715.3 539.2,700 539.5,683.3 539.7,665.8 539.9,647.8 540,629.6 540.1,611.3 540.2,593.1 540.4,575.4 540.6,558.2 540.8,541.9 541.1,526.6 541.5,512.5 542,500 542.3,493.9 542.7,488.1 543.1,482.8 543.5,477.8 544,473 544.4,468.4 544.9,463.9 545.3,459.4 545.7,455 546.1,450.5 546.5,445.8 546.8,441 547,436 547.2,430.9 547.4,425.8 547.5,420.7 547.6,415.6 547.7,410.4 547.8,405.3 547.8,400.3 547.9,395.2 548,390.3 548.1,385.3 548.2,380.5 548.3,376.1 548.5,371.7 548.7,367.3 548.9,363 549.1,358.6 549.3,354.4 549.5,350.1 549.6,346 549.7,341.9 549.7,338 549.6,334.1 549.5,330.4 549.3,326.7 549.1,323.1 548.9,319.6 548.6,316.3 548.3,313 547.8,309.7 547.3,306.6 546.6,303.4 545.7,300.3 544.5,297 543.2,293.9 541.6,290.8 539.9,287.8 538.2,284.8 536.4,281.7 534.8,278.6 533.2,275.3 531.9,272.3 530.5,269.1 529.2,266 527.8,262.8 526.5,259.5 525.3,256.2 524,252.9 522.9,249.5 521.7,246.1 520.7,242.7 519.8,239.4 518.9,236 518.1,232.6 517.4,229.1 516.7,225.6 516,222.1 515.4,218.7 514.8,215.2 514.2,211.7 513.6,208.3 513,205 512.4,201.7 511.8,198.4 511.2,195.1 510.7,191.8 510.1,188.6 509.6,185.4 509.2,182.2 508.7,179.1 508.3,175.9 508,172.8 507.7,169.2 507.4,165.6 507.2,162 507,158.5 506.9,155 506.8,151.6 506.8,148.2 506.8,145 506.8,141.5 506.8,138 506.9,134.7 507.1,131.4 507.5,128.3 508.2,125.3 509.2,122.2 510.4,119.2 511.8,116.4 513.4,113.7 515.3,111.1 517.2,108.9 519.4,106.7 521.7,104.7 524.3,102.7 526.9,100.8 529.6,99 532.4,97.3 535.3,95.6 538.4,93.9 541.6,92.3 544.8,90.9 547.9,89.6 551,88.4 554.1,87.4 557.2,86.6 560.2,85.9 563.3,85.3 566.6,84.7 570,84.1 573,83.6 576.1,83.1 579.3,82.6 582.6,82.1 586,81.7 589.4,81.2 592.9,80.8 596.4,80.4 600,80 603.1,79.7 606.3,79.4 609.5,79.1 612.8,78.8 616.1,78.6 619.4,78.3 622.8,78.1 626.2,77.8 629.6,77.6 633.1,77.4 636.5,77.2 640,77 643.8,76.8 647.5,76.6 651.2,76.4 654.9,76.2 658.7,76 662.5,75.8 666.4,75.7 670.4,75.5 674.5,75.4 678.8,75.2 683.3,75.1 688,75 695.7,74.8 703.9,74.7 712.6,74.6 721.6,74.5 731.1,74.5 740.7,74.4 750.5,74.4 760.5,74.4 770.5,74.4 780.4,74.4 790.3,74.3 800,74.3 810.1,74.3 820.4,74.2 830.7,74.2 841,74.1 851.4,74.1 861.8,74.1 872.3,74.1 882.8,74 893.2,74 903.7,74 914.1,74 924.5,74 934.9,74 945.3,74 955.8,74 966.2,74 976.7,74.1 987.2,74.1 997.6,74.1 1008,74.1 1018.3,74.2 1028.6,74.2 1038.9,74.3 1049,74.3 1058.7,74.3 1068.6,74.4 1078.5,74.4 1088.5,74.4 1098.5,74.4 1108.3,74.4 1117.9,74.5 1127.4,74.5 1136.4,74.6 1145.1,74.7 1153.3,74.8 1161,75 1165.7,75.1 1170.2,75.2 1174.5,75.4 1178.6,75.5 1182.6,75.7 1186.5,75.8 1190.3,76 1194.1,76.2 1197.8,76.4 1201.5,76.6 1205.2,76.8 1209,77 1212.5,77.2 1215.9,77.4 1219.4,77.6 1222.8,77.8 1226.2,78.1 1229.6,78.3 1232.9,78.6 1236.2,78.8 1239.5,79.1 1242.7,79.4 1245.9,79.7 1249,80 1252.6,80.4 1256.1,80.8 1259.6,81.2 1263,81.7 1266.4,82.1 1269.7,82.6 1272.9,83.1 1276,83.6 1279,84.1 1282.4,84.7 1285.7,85.3 1288.8,85.9 1291.8,86.6 1294.9,87.4 1298,88.4 1301.1,89.6 1304.2,90.9 1307.4,92.3 1310.6,93.9 1313.7,95.6 1316.6,97.3 1319.4,99 1322.1,100.8 1324.7,102.7 1327.3,104.7 1329.6,106.7 1331.8,108.9 1333.7,111.1 1335.6,113.7 1337.2,116.4 1338.6,119.2 1339.8,122.2 1340.8,125.3 1341.5,128.3 1341.9,131.4 1342.1,134.7 1342.2,138 1342.2,141.5 1342.2,145 1342.2,148.2 1342.2,151.6 1342.1,155 1342,158.5 1341.8,162 1341.6,165.6 1341.3,169.2 1341,172.8 1340.7,175.9 1340.3,179.1 1339.8,182.2 1339.4,185.4 1338.9,188.6 1338.3,191.8 1337.8,195.1 1337.2,198.4 1336.6,201.7 1336,205 1335.4,208.3 1334.8,211.7 1334.2,215.2 1333.6,218.7 1333,222.1 1332.3,225.6 1331.6,229.1 1330.9,232.6 1330.1,236 1329.2,239.4 1328.3,242.7 1327.3,246.1 1326.1,249.5 1325,252.9 1323.7,256.2 1322.5,259.5 1321.2,262.8 1319.8,266 1318.5,269.1 1317.1,272.3 1315.8,275.3 1314.2,278.6 1312.6,281.7 1310.8,284.8 1309.1,287.8 1307.4,290.8 1305.8,293.9 1304.5,297 1303.3,300.3 1302.4,303.4 1301.7,306.6 1301.2,309.7 1300.7,313 1300.4,316.3 1300.1,319.6 1299.9,323.1 1299.7,326.7 1299.5,330.4 1299.4,334.1 1299.3,338 1299.3,341.9 1299.4,346 1299.5,350.1 1299.7,354.4 1299.9,358.6 1300.1,363 1300.3,367.3 1300.5,371.7 1300.7,376.1 1300.8,380.5 1300.9,385.3 1301,390.3 1301.1,395.2 1301.2,400.3 1301.2,405.3 1301.3,410.4 1301.4,415.6 1301.5,420.7 1301.6,425.8 1301.8,430.9 1302,436 1302.2,441 1302.5,445.8 1302.9,450.5 1303.3,455 1303.7,459.4 1304.1,463.9 1304.6,468.4 1305,473 1305.5,477.8 1305.9,482.8 1306.3,488.1 1306.7,493.9 1307,500 1307.5,512.5 1307.9,526.6 1308.2,541.9 1308.4,558.2 1308.6,575.4 1308.8,593.1 1308.9,611.3 1309,629.6 1309.1,647.8 1309.3,665.8 1309.5,683.3 1309.8,700 1310,715.3 1310.4,730.1 1310.7,744.5 1311.1,758.7 1311.5,772.8 1311.9,787 1312.3,801.5 1312.6,816.4 1313,831.9 1313.3,848 1313.6,865 1313.8,883 1314.1,913.1 1314.3,945.6 1314.4,980 1314.4,1016.1 1314.4,1053.6 1314.4,1092 1314.3,1131.1 1314.2,1170.6 1314.1,1210 1314.1,1249.1 1314,1287.6 1314,1325Z" fill="#4741e5" stroke="#4741e5" stroke-width="0.6"/>
<path d="M566,1325 566.2,1287.6 566.3,1249.1 566.4,1210 566.5,1170.6 566.6,1131.1 566.7,1092 566.8,1053.6 567,1016.1 567.2,980 567.4,945.6 567.7,913.1 568,883 568.2,865 568.5,848 568.8,831.9 569.1,816.4 569.4,801.5 569.7,787 570,772.8 570.3,758.7 570.7,744.5 571,730.1 571.4,715.3 571.8,700 572.1,683.1 572.5,665.2 572.8,646.6 573.2,627.6 573.5,608.6 573.9,589.8 574.3,571.6 574.8,554.2 575.2,538.1 575.8,523.5 576.3,510.7 577,500 577.3,495.7 577.7,491.9 578,488.5 578.4,485.4 578.8,482.5 579.2,479.8 579.6,477.1 580,474.3 580.4,471.4 580.8,468.2 581.2,464.9 581.6,461.6 582,458.2 582.4,454.7 582.9,451.3 583.3,447.9 583.8,444.4 584.2,440.9 584.7,437.5 585.2,434 585.8,430.6 586.4,427.2 587,423.7 587.6,420.2 588.2,416.8 588.9,413.3 589.5,409.9 590.2,406.4 591,403 591.7,399.6 592.5,396.3 593.3,393 594.2,389.6 595.1,386.3 596.1,383 597.1,379.7 598.2,376.5 599.2,373.3 600.3,370.1 601.3,366.9 602.3,363.7 603.3,360.5 604.3,357.1 605.4,353.6 606.6,350.2 607.7,346.7 608.7,343.3 609.7,340 610.6,336.7 611.4,333.5 612,330.4 612.6,327.3 613.2,324.3 613.7,321.3 614.1,318.4 614.2,315.7 614,313 613.4,310.4 612.2,307.6 610.5,304.9 608.3,302.4 606,300 603.4,297.6 600.8,295.3 598.4,293.3 595.7,291.4 592.8,289.7 589.9,287.9 586.9,286.1 583.9,284.3 581,282.4 578.3,280.3 575.9,278.3 573.5,276.3 571.2,274.3 568.8,272.1 566.6,269.9 564.3,267.7 562.2,265.3 560.2,262.9 558.2,260.3 556.4,257.7 554.6,254.9 553,252 551.3,249.1 549.8,246 548.4,242.9 547,239.8 545.6,236.6 544.4,233.4 543.2,230.2 542.2,227.1 541.2,224 540.3,220.7 539.5,217.5 538.8,214.1 538.1,210.8 537.4,207.5 536.8,204.3 536.2,201.1 535.6,198 535,195 534.3,191.7 533.7,188.5 533,185.3 532.4,182.3 531.9,179.2 531.4,176.2 530.9,173.1 530.5,170 530.1,166.8 529.8,163.6 529.6,160.4 529.3,157.2 529.2,154 529,150.9 528.9,147.9 528.9,145 528.8,142.1 528.7,139.3 528.7,136.5 528.8,133.9 529,131.4 529.6,128.9 530.5,126.3 531.8,123.8 533.2,121.4 534.9,119.1 536.7,116.8 538.7,114.5 540.8,112.2 543.2,110 545.7,107.8 548.3,105.8 551,104 553.4,102.6 556,101.3 558.6,100.1 561.3,99.1 564.1,98.1 567,97.1 570,96.2 573,95.4 576.2,94.6 579.5,93.9 583,93.3 586.4,92.7 590,92.1 593.6,91.6 597.2,91 600.8,90.5 604.1,90 607.3,89.5 610.6,89.1 614,88.6 617.3,88.2 620.7,87.8 624.2,87.4 627.7,87 631.2,86.6 634.8,86.3 638.4,86 642.2,85.7 646,85.4 649.8,85.2 653.7,85 657.6,84.8 661.5,84.7 665.6,84.5 669.7,84.4 674,84.3 678.5,84.1 683.1,84 688,83.9 695.7,83.7 704,83.6 712.7,83.5 721.8,83.5 731.2,83.4 740.8,83.4 750.6,83.4 760.6,83.4 770.5,83.4 780.5,83.3 790.3,83.3 800,83.3 810.1,83.3 820.4,83.2 830.7,83.2 841,83.2 851.4,83.1 861.8,83.1 872.3,83.1 882.8,83 893.2,83 903.7,83 914.1,83 924.5,83 934.9,83 945.3,83 955.8,83 966.2,83 976.7,83.1 987.2,83.1 997.6,83.1 1008,83.2 1018.3,83.2 1028.6,83.2 1038.9,83.3 1049,83.3 1058.7,83.3 1068.5,83.3 1078.5,83.4 1088.4,83.4 1098.4,83.4 1108.2,83.4 1117.8,83.4 1127.2,83.5 1136.3,83.5 1145,83.6 1153.3,83.7 1161,83.9 1165.9,84 1170.5,84.1 1175,84.3 1179.3,84.4 1183.4,84.5 1187.5,84.7 1191.4,84.8 1195.3,85 1199.2,85.2 1203,85.4 1206.8,85.7 1210.6,86 1214.2,86.3 1217.8,86.6 1221.3,87 1224.8,87.4 1228.3,87.8 1231.7,88.2 1235,88.6 1238.4,89.1 1241.7,89.5 1244.9,90 1248.2,90.5 1251.8,91 1255.4,91.6 1259,92.1 1262.6,92.7 1266,93.3 1269.5,93.9 1272.8,94.6 1276,95.4 1279,96.2 1282,97.1 1284.9,98.1 1287.7,99.1 1290.4,100.1 1293,101.3 1295.6,102.6 1298,104 1300.7,105.8 1303.3,107.8 1305.8,110 1308.2,112.2 1310.3,114.5 1312.3,116.8 1314.1,119.1 1315.8,121.4 1317.2,123.8 1318.5,126.3 1319.4,128.9 1320,131.4 1320.2,133.9 1320.3,136.5 1320.3,139.3 1320.2,142.1 1320.1,145 1320.1,147.9 1320,150.9 1319.8,154 1319.7,157.2 1319.4,160.4 1319.2,163.6 1318.9,166.8 1318.5,170 1318.1,173.1 1317.6,176.2 1317.1,179.2 1316.6,182.3 1316,185.3 1315.3,188.5 1314.7,191.7 1314,195 1313.4,198 1312.8,201.1 1312.2,204.3 1311.6,207.5 1310.9,210.8 1310.2,214.1 1309.5,217.5 1308.7,220.7 1307.8,224 1306.8,227.1 1305.8,230.2 1304.6,233.4 1303.4,236.6 1302,239.8 1300.6,242.9 1299.2,246 1297.7,249.1 1296,252 1294.4,254.9 1292.6,257.7 1290.8,260.3 1288.8,262.9 1286.8,265.3 1284.7,267.7 1282.4,269.9 1280.2,272.1 1277.8,274.3 1275.5,276.3 1273.1,278.3 1270.7,280.3 1268,282.4 1265.1,284.3 1262.1,286.1 1259.1,287.9 1256.2,289.7 1253.3,291.4 1250.6,293.3 1248.2,295.3 1245.6,297.6 1243,300 1240.7,302.4 1238.5,304.9 1236.8,307.6 1235.6,310.4 1235,313 1234.8,315.7 1234.9,318.4 1235.3,321.3 1235.8,324.3 1236.4,327.3 1237,330.4 1237.6,333.5 1238.4,336.7 1239.3,340 1240.3,343.3 1241.3,346.7 1242.4,350.2 1243.6,353.6 1244.7,357.1 1245.7,360.5 1246.7,363.7 1247.7,366.9 1248.7,370.1 1249.8,373.3 1250.8,376.5 1251.9,379.7 1252.9,383 1253.9,386.3 1254.8,389.6 1255.7,393 1256.5,396.3 1257.3,399.6 1258,403 1258.8,406.4 1259.5,409.9 1260.1,413.3 1260.8,416.8 1261.4,420.2 1262,423.7 1262.6,427.2 1263.2,430.6 1263.8,434 1264.3,437.5 1264.8,440.9 1265.2,444.4 1265.7,447.9 1266.1,451.3 1266.6,454.7 1267,458.2 1267.4,461.6 1267.8,464.9 1268.2,468.2 1268.6,471.4 1269,474.3 1269.4,477.1 1269.8,479.8 1270.2,482.5 1270.6,485.4 1271,488.5 1271.3,491.9 1271.7,495.7 1272,500 1272.7,510.7 1273.2,523.5 1273.8,538.1 1274.2,554.2 1274.7,571.6 1275.1,589.8 1275.5,608.6 1275.8,627.6 1276.2,646.6 1276.5,665.2 1276.9,683.1 1277.2,700 1277.6,715.3 1278,730.1 1278.3,744.5 1278.7,758.7 1279,772.8 1279.3,787 1279.6,801.5 1279.9,816.4 1280.2,831.9 1280.5,848 1280.8,865 1281,883 1281.3,913.1 1281.6,945.6 1281.8,980 1282,1016.1 1282.2,1053.6 1282.3,1092 1282.4,1131.1 1282.5,1170.6 1282.6,1210 1282.7,1249.1 1282.8,1287.6 1283,1325Z" fill="#4332cb" stroke="#4332cb" stroke-width="0.6"/>
<path d="M924.5,91.7 914.1,91.7 903.7,91.7 893.2,91.7 882.8,91.7 872.3,91.7 861.8,91.8 851.4,91.8 841,91.9 830.7,92 820.4,92.2 810.1,92.3 800,92.5 790.3,92.7 780.3,92.9 770.2,93.2 760,93.4 749.8,93.7 739.8,94 730.1,94.4 720.6,94.7 711.6,95.1 703.1,95.5 695.2,95.9 688,96.4 683.9,96.7 680.1,97 676.5,97.3 673.1,97.6 669.8,97.9 666.7,98.3 663.6,98.6 660.6,99 657.5,99.4 654.3,99.8 651,100.2 647.6,100.7 644.1,101.1 640.5,101.6 637,102.1 633.5,102.7 630,103.2 626.5,103.8 623.1,104.4 619.7,105 616.5,105.7 613.4,106.4 609.9,107.2 606.6,108.1 603.3,108.9 600,109.8 596.9,110.8 593.9,111.8 591,112.9 588.3,114 585.5,115.3 582.7,116.6 580.1,117.9 577.7,119.4 575.4,120.9 573.3,122.7 571.1,124.9 569.1,127.2 567.3,129.8 565.8,132.5 564.5,135.3 563.6,138.1 562.9,141.2 562.5,144.3 562.2,147.6 562,150.8 562,154 562.1,157.2 562.3,160.5 562.7,163.8 563.2,167.1 563.8,170.1 564.5,172.8 565.3,175.4 566.3,177.6 567.4,179.8 568.5,182 569.8,184.5 571.3,187 572.8,189.5 574.5,192 576,194.1 577.5,196.2 579.2,198.3 581.1,200.5 583.3,202.6 585.4,204.4 587.8,206.4 590.4,208.4 593.2,210.4 596.1,212.4 599.1,214.3 602.1,216.1 605.2,217.7 608.3,219 611.4,220.1 614.6,221.1 617.8,221.9 621.2,222.6 624.5,223.1 627.9,223.5 631.4,223.8 634.9,223.9 638.4,224 641.6,223.9 644.9,223.7 648.2,223.4 651.6,222.9 654.9,222.3 658.4,221.7 661.8,221 665.3,220.2 668.8,219.4 672.4,218.5 676,217.7 679.9,216.7 683.9,215.7 687.9,214.5 692,213.3 696.1,212.1 700.2,210.8 704.4,209.4 708.7,208.1 712.9,206.7 717.3,205.3 721.6,203.9 726,202.6 731,201.1 736,199.5 741.2,197.9 746.4,196.3 751.6,194.7 756.9,193.1 762.2,191.5 767.5,189.9 772.8,188.3 778.1,186.8 783.4,185.3 788.7,183.9 793.9,182.6 799.2,181.2 804.5,179.9 809.8,178.6 815.1,177.3 820.4,176.1 825.6,174.9 830.9,173.8 836.1,172.8 841.2,171.8 846.3,170.8 851.3,170 855.7,169.3 860.2,168.7 864.6,168.2 869.1,167.7 873.5,167.2 877.9,166.8 882.1,166.5 886.3,166.1 890.3,165.8 894.2,165.5 897.9,165.3 901.4,165 905.2,164.7 908.6,164.5 911.9,164.2 915.1,164.1 918.2,163.9 921.3,163.8 924.5,163.8 927.7,163.8 930.8,163.9 933.9,164.1 937.1,164.2 940.4,164.5 943.8,164.7 947.6,165 951.1,165.3 954.8,165.5 958.7,165.8 962.7,166.1 966.9,166.5 971.1,166.8 975.5,167.2 979.9,167.7 984.4,168.2 988.8,168.7 993.3,169.3 997.7,170 1002.7,170.8 1007.8,171.8 1012.9,172.8 1018.1,173.8 1023.4,174.9 1028.6,176.1 1033.9,177.3 1039.2,178.6 1044.5,179.9 1049.8,181.2 1055.1,182.6 1060.3,183.9 1065.6,185.3 1070.9,186.8 1076.2,188.3 1081.5,189.9 1086.8,191.5 1092.1,193.1 1097.4,194.7 1102.6,196.3 1107.8,197.9 1113,199.5 1118,201.1 1123,202.6 1127.4,203.9 1131.7,205.3 1136.1,206.7 1140.3,208.1 1144.6,209.4 1148.8,210.8 1152.9,212.1 1157,213.3 1161.1,214.5 1165.1,215.7 1169.1,216.7 1173,217.7 1176.6,218.5 1180.2,219.4 1183.7,220.2 1187.2,221 1190.6,221.7 1194.1,222.3 1197.4,222.9 1200.8,223.4 1204.1,223.7 1207.4,223.9 1210.6,224 1214.1,223.9 1217.6,223.8 1221.1,223.5 1224.5,223.1 1227.8,222.6 1231.2,221.9 1234.4,221.1 1237.6,220.1 1240.7,219 1243.8,217.7 1246.9,216.1 1249.9,214.3 1252.9,212.4 1255.8,210.4 1258.6,208.4 1261.2,206.4 1263.6,204.4 1265.7,202.6 1267.9,200.5 1269.8,198.3 1271.5,196.2 1273,194.1 1274.5,192 1276.2,189.5 1277.7,187 1279.2,184.5 1280.5,182 1281.6,179.8 1282.7,177.6 1283.7,175.4 1284.5,172.8 1285.2,170.1 1285.8,167.1 1286.3,163.8 1286.7,160.5 1286.9,157.2 1287,154 1287,150.8 1286.8,147.6 1286.5,144.3 1286.1,141.2 1285.4,138.1 1284.5,135.3 1283.2,132.5 1281.7,129.8 1279.9,127.2 1277.9,124.9 1275.7,122.7 1273.6,120.9 1271.3,119.4 1268.9,117.9 1266.3,116.6 1263.5,115.3 1260.7,114 1258,112.9 1255.1,111.8 1252.1,110.8 1249,109.8 1245.7,108.9 1242.4,108.1 1239.1,107.2 1235.6,106.4 1232.5,105.7 1229.3,105 1225.9,104.4 1222.5,103.8 1219,103.2 1215.5,102.7 1212,102.1 1208.5,101.6 1204.9,101.1 1201.4,100.7 1198,100.2 1194.7,99.8 1191.5,99.4 1188.4,99 1185.4,98.6 1182.3,98.3 1179.2,97.9 1175.9,97.6 1172.5,97.3 1168.9,97 1165.1,96.7 1161,96.4 1153.8,95.9 1145.9,95.5 1137.4,95.1 1128.4,94.7 1118.9,94.4 1109.2,94 1099.2,93.7 1089,93.4 1078.8,93.2 1068.7,92.9 1058.7,92.7 1049,92.5 1038.9,92.3 1028.6,92.2 1018.3,92 1008,91.9 997.6,91.8 987.2,91.8 976.7,91.7 966.2,91.7 955.8,91.7 945.3,91.7 934.9,91.7Z" fill="#3e26a8" stroke="#3e26a8" stroke-width="0.6"/>
<path d="M924.5,212.7 921.2,212.8 918.1,213.1 914.9,213.6 911.7,214.2 908.4,214.9 905,215.7 901.4,216.4 898.3,217 895.1,217.6 891.8,218.3 888.3,219 884.9,219.8 881.3,220.6 877.8,221.4 874.2,222.3 870.7,223.2 867.2,224.2 863.8,225.2 860.6,226.2 857.5,227.3 854.3,228.5 851.1,229.7 848,231 844.8,232.3 841.7,233.6 838.5,234.9 835.4,236.2 832.4,237.6 829.3,238.9 826.3,240.2 822.9,241.7 819.4,243.1 815.9,244.5 812.4,245.9 808.9,247.4 805.5,248.9 802.3,250.4 799.2,251.9 796.3,253.6 793.7,255.3 791,257.3 788.4,259.4 786,261.6 783.7,263.8 781.8,266 780.1,268.2 778.7,270.3 777.4,272.8 776.6,275.2 776.2,277.7 776.2,280.3 776.7,282.6 777.6,285.1 778.8,287.6 780.3,290.1 782,292.7 783.7,295.3 785.4,297.7 787.4,300.2 789.4,302.7 791.6,305.2 794,307.7 796.3,310.2 798.8,312.8 801.2,315.4 803.5,317.8 805.9,320.3 808.3,322.8 810.8,325.3 813.4,327.9 816,330.4 818.6,333 821.2,335.5 823.7,338 826.3,340.4 828.8,342.7 831.3,345.1 833.7,347.4 836.2,349.7 838.7,351.9 841.2,354.2 843.7,356.4 846.2,358.6 848.8,360.8 851.3,363 853.8,365.1 856.3,367.2 858.7,369.3 861.2,371.4 863.7,373.4 866.2,375.4 868.8,377.4 871.3,379.3 873.8,381.2 876.4,383 879.1,384.9 881.9,386.8 884.6,388.7 887.4,390.5 890.2,392.3 893,394 895.8,395.5 898.6,396.8 901.4,398 904.7,399.1 908,400 911.3,400.8 914.6,401.3 917.9,401.7 921.2,401.9 924.5,402 927.8,401.9 931.1,401.7 934.4,401.3 937.7,400.8 941,400 944.3,399.1 947.6,398 950.4,396.8 953.2,395.5 956,394 958.8,392.3 961.6,390.5 964.4,388.7 967.1,386.8 969.9,384.9 972.6,383 975.2,381.2 977.7,379.3 980.2,377.4 982.8,375.4 985.3,373.4 987.8,371.4 990.3,369.3 992.7,367.2 995.2,365.1 997.7,363 1000.2,360.8 1002.8,358.6 1005.3,356.4 1007.8,354.2 1010.3,351.9 1012.8,349.7 1015.3,347.4 1017.7,345.1 1020.2,342.7 1022.7,340.4 1025.3,338 1027.8,335.5 1030.4,333 1033,330.4 1035.6,327.9 1038.2,325.3 1040.7,322.8 1043.1,320.3 1045.5,317.8 1047.8,315.4 1050.2,312.8 1052.7,310.2 1055,307.7 1057.4,305.2 1059.6,302.7 1061.6,300.2 1063.6,297.7 1065.3,295.3 1067,292.7 1068.7,290.1 1070.2,287.6 1071.4,285.1 1072.3,282.6 1072.8,280.3 1072.8,277.7 1072.4,275.2 1071.6,272.8 1070.3,270.3 1068.9,268.2 1067.2,266 1065.3,263.8 1063,261.6 1060.6,259.4 1058,257.3 1055.3,255.3 1052.7,253.6 1049.8,251.9 1046.7,250.4 1043.5,248.9 1040.1,247.4 1036.6,245.9 1033.1,244.5 1029.6,243.1 1026.1,241.7 1022.7,240.2 1019.7,238.9 1016.6,237.6 1013.6,236.2 1010.5,234.9 1007.3,233.6 1004.2,232.3 1001,231 997.9,229.7 994.7,228.5 991.5,227.3 988.4,226.2 985.2,225.2 981.8,224.2 978.3,223.2 974.8,222.3 971.2,221.4 967.7,220.6 964.1,219.8 960.7,219 957.2,218.3 953.9,217.6 950.7,217 947.6,216.4 944,215.7 940.6,214.9 937.3,214.2 934.1,213.6 930.9,213.1 927.8,212.8Z" fill="#4741e5" stroke="#4741e5" stroke-width="0.6"/>
<path d="M188,305.5 191.1,304.2 194.2,303 197.3,301.8 200.5,300.6 203.6,299.4 206.7,298.2 209.8,297 212.9,295.7 216,294.4 219.2,293.1 222.4,291.7 225.6,290.2 229.2,288.5 232.9,286.6 236.6,284.6 240.4,282.5 244.1,280.4 247.9,278.3 251.7,276.2 255.4,274.1 259.2,272.1 262.8,270.2 266.5,268.4 270,266.8 273.6,265.3 277.2,263.9 280.8,262.6 284.4,261.3 287.9,260.1 291.3,259 294.7,257.9 297.9,256.9 301,255.9 303.9,255 307,254 309.8,253 312.5,252.2 315.1,251.4 317.8,250.6 320.8,249.9 323.7,249.3 326.9,248.6 330.1,248 333.4,247.5 336.7,247 340,246.6 343.2,246.3 346.2,246.2 349.5,246.2 352.7,246.2 355.9,246.4 358.9,246.7 361.9,247.3 364.8,248.2 367.6,249.3 370.3,250.7 372.9,252.3 375.5,254.2 377.9,256.2 380.1,258.4 382.1,260.8 383.9,263.4 385.7,266.1 387.3,269.1 388.8,272.2 390.4,275.4 391.9,278.7 393.2,281.6 394.5,284.6 395.8,287.7 397,290.9 398.2,294.2 399.4,297.5 400.6,300.9 401.7,304.2 402.8,307.6 403.8,310.9 404.8,314.2 405.8,317.6 406.7,320.9 407.6,324.3 408.4,327.7 409.2,331.1 410,334.5 410.8,337.9 411.5,341.3 412.2,344.7 412.9,348 413.5,351.3 414.1,354.5 414.6,357.7 415.1,361 415.6,364.3 416.1,367.6 416.5,371.1 416.9,374.8 417.3,378.6 417.7,383 418,387.4 418.2,391.9 418.4,396.4 418.6,401.1 418.7,405.9 418.8,411 418.9,416.3 419,422 419.1,427.9 419.2,434.2 419.2,441 419.4,456.5 419.4,474.4 419.4,494.4 419.3,515.9 419.2,538.6 419,562.2 418.8,586.3 418.6,610.4 418.4,634.3 418.2,657.4 418.1,679.4 418,700 418,716.1 417.9,731.4 417.9,746.1 417.9,760.4 417.9,774.5 417.9,788.5 417.9,802.7 417.9,817.3 418,832.4 418,848.3 418,865.1 418,883 418,913.1 418,945.6 418.1,980 418.1,1016.1 418.2,1053.6 418.2,1092 418.3,1131.1 418.3,1170.6 418.4,1210 418.4,1249.1 418.5,1287.6 418.5,1325 148.6,1364Z" fill="#c5c22a" stroke="#c5c22a" stroke-width="0.6"/>
<path d="M1700.2,1364 1430.5,1325 1430.5,1287.6 1430.6,1249.1 1430.6,1210 1430.7,1170.6 1430.7,1131.1 1430.8,1092 1430.8,1053.6 1430.9,1016.1 1430.9,980 1431,945.6 1431,913.1 1431,883 1431,865.1 1431,848.3 1431,832.4 1431.1,817.3 1431.1,802.7 1431.1,788.5 1431.1,774.5 1431.1,760.4 1431.1,746.1 1431.1,731.4 1431,716.1 1431,700 1430.9,679.4 1430.8,657.4 1430.6,634.3 1430.4,610.4 1430.2,586.3 1430,562.2 1429.8,538.6 1429.7,515.9 1429.6,494.4 1429.6,474.4 1429.6,456.5 1429.8,441 1429.8,434.2 1429.9,427.9 1430,422 1430.1,416.3 1430.2,411 1430.3,405.9 1430.4,401.1 1430.6,396.4 1430.8,391.9 1431,387.4 1431.3,383 1431.7,378.6 1432.1,374.8 1432.5,371.1 1432.9,367.6 1433.4,364.3 1433.9,361 1434.4,357.7 1434.9,354.5 1435.5,351.3 1436.1,348 1436.8,344.7 1437.5,341.3 1438.2,337.9 1439,334.5 1439.8,331.1 1440.6,327.7 1441.4,324.3 1442.3,320.9 1443.2,317.6 1444.2,314.2 1445.2,310.9 1446.2,307.6 1447.3,304.2 1448.4,300.9 1449.6,297.5 1450.8,294.2 1452,290.9 1453.2,287.7 1454.5,284.6 1455.8,281.6 1457.1,278.7 1458.6,275.4 1460.2,272.2 1461.7,269.1 1463.3,266.1 1465.1,263.4 1466.9,260.8 1468.9,258.4 1471.1,256.2 1473.5,254.2 1476.1,252.3 1478.7,250.7 1481.4,249.3 1484.2,248.2 1487.1,247.3 1490.1,246.7 1493.1,246.4 1496.3,246.2 1499.5,246.2 1502.8,246.3 1505.8,246.6 1509,247 1512.3,247.6 1515.6,248.3 1518.9,249.1 1522.2,249.9 1525.3,250.8 1528.2,251.6 1531.2,252.5 1533.9,253.4 1536.5,254.4 1539.2,255.4 1542,256.5 1545.1,257.8 1547.7,258.8 1550.5,259.8 1553.4,260.9 1556.4,262.1 1559.5,263.3 1562.7,264.5 1566,265.8 1569.2,267.2 1572.5,268.6 1575.8,270.1 1579,271.7 1582.5,273.5 1586.2,275.5 1589.8,277.6 1593.6,279.9 1597.3,282.2 1601.1,284.5 1604.9,286.9 1608.6,289.2 1612.4,291.5 1616.1,293.8 1619.8,295.9 1623.4,297.8 1626.6,299.5 1629.8,301.1 1633,302.7 1636.1,304.1 1639.2,305.6 1642.3,307 1645.4,308.4 1648.5,309.8 1651.7,311.2 1654.8,312.6 1657.9,314 1661,315.5Z" fill="#c5c22a" stroke="#c5c22a" stroke-width="0.6"/>
<path d="M188,326 191.4,325.3 194.8,324.6 198.2,324 201.6,323.4 205,322.8 208.4,322.2 211.8,321.5 215.2,320.7 218.7,319.8 222.1,318.8 225.6,317.7 229.3,316.3 233,314.7 236.7,312.9 240.4,311 244.2,309 248,306.9 251.8,304.9 255.5,302.8 259.2,300.8 262.9,298.9 266.5,297.2 270,295.6 273.6,294.1 277.1,292.8 280.6,291.5 284,290.3 287.5,289.2 290.9,288.1 294.2,287 297.5,285.9 300.7,284.9 303.9,283.8 307.3,282.6 310.6,281.4 313.9,280.3 317.1,279.1 320.3,278 323.4,277 326.4,276.1 329.3,275.3 332.3,274.5 335.2,273.8 338,273.2 340.7,272.7 343.5,272.4 346.2,272.2 349.3,272.2 352.4,272.4 355.5,272.8 358.5,273.4 361.4,274.4 363.8,275.5 366.2,276.8 368.5,278.3 370.8,279.9 372.9,281.8 375,283.8 376.9,286 378.8,288.4 380.5,290.9 382.2,293.7 383.7,296.5 385.3,299.4 386.8,302.4 388.1,305.1 389.3,308 390.5,310.9 391.7,313.9 392.8,316.9 393.9,320 394.9,323.2 396,326.3 397,329.5 398,332.6 398.9,335.7 399.8,338.9 400.8,342.1 401.6,345.3 402.5,348.5 403.3,351.8 404.1,355 404.8,358.3 405.5,361.6 406.2,364.9 406.8,368.2 407.4,371.5 407.9,374.8 408.5,378.1 408.9,381.5 409.4,384.9 409.8,388.4 410.2,391.9 410.5,395.5 410.8,398.9 411,402.3 411.2,405.5 411.3,408.8 411.4,412.1 411.5,415.5 411.6,419.1 411.6,422.8 411.6,426.8 411.7,431.2 411.7,435.9 411.8,441 411.8,455.3 411.7,472.4 411.6,491.9 411.4,513.3 411.1,536.2 410.8,560.1 410.5,584.5 410.1,609.1 409.8,633.4 409.6,657 409.4,679.3 409.2,700 409.2,716.1 409.2,731.4 409.2,746.1 409.2,760.4 409.2,774.5 409.2,788.5 409.3,802.7 409.3,817.3 409.4,832.4 409.4,848.3 409.5,865.1 409.5,883 409.5,913.1 409.6,945.6 409.6,980 409.7,1016.1 409.7,1053.6 409.7,1092 409.8,1131.1 409.8,1170.6 409.9,1210 409.9,1249.1 410,1287.6 410,1325 148.6,1364Z" fill="#e6bb2d" stroke="#e6bb2d" stroke-width="0.6"/>
<path d="M1700.2,1364 1439,1325 1439,1287.6 1439.1,1249.1 1439.1,1210 1439.2,1170.6 1439.2,1131.1 1439.3,1092 1439.3,1053.6 1439.3,1016.1 1439.4,980 1439.4,945.6 1439.5,913.1 1439.5,883 1439.5,865.1 1439.6,848.3 1439.6,832.4 1439.7,817.3 1439.7,802.7 1439.8,788.5 1439.8,774.5 1439.8,760.4 1439.8,746.1 1439.8,731.4 1439.8,716.1 1439.8,700 1439.6,679.3 1439.4,657 1439.2,633.4 1438.9,609.1 1438.5,584.5 1438.2,560.1 1437.9,536.2 1437.6,513.3 1437.4,491.9 1437.3,472.4 1437.2,455.3 1437.2,441 1437.3,435.9 1437.3,431.2 1437.4,426.8 1437.4,422.8 1437.4,419.1 1437.5,415.5 1437.6,412.1 1437.7,408.8 1437.8,405.5 1438,402.3 1438.2,398.9 1438.5,395.5 1438.8,391.9 1439.2,388.4 1439.6,384.9 1440.1,381.5 1440.5,378.1 1441.1,374.8 1441.6,371.5 1442.2,368.2 1442.8,364.9 1443.5,361.6 1444.2,358.3 1444.9,355 1445.7,351.8 1446.5,348.5 1447.4,345.3 1448.2,342.1 1449.2,338.9 1450.1,335.7 1451,332.6 1452,329.5 1453,326.3 1454.1,323.2 1455.1,320 1456.2,316.9 1457.3,313.9 1458.5,310.9 1459.7,308 1460.9,305.1 1462.2,302.4 1463.7,299.4 1465.3,296.5 1466.8,293.7 1468.5,290.9 1470.2,288.4 1472.1,286 1474,283.8 1476.1,281.8 1478.2,279.9 1480.5,278.2 1482.8,276.8 1485.2,275.5 1487.6,274.4 1490.5,273.5 1493.5,272.8 1496.6,272.4 1499.7,272.2 1502.8,272.3 1505.5,272.6 1508.3,273.1 1511,273.8 1513.8,274.6 1516.7,275.5 1519.7,276.5 1522.6,277.5 1525.6,278.6 1528.7,279.8 1531.9,281.1 1535.1,282.4 1538.4,283.8 1541.7,285.2 1545.1,286.6 1548,287.7 1550.9,288.9 1553.9,290 1556.9,291.2 1560,292.3 1563.1,293.6 1566.2,294.8 1569.4,296.1 1572.6,297.5 1575.8,299 1579,300.5 1582.5,302.3 1586.1,304.2 1589.8,306.4 1593.5,308.6 1597.2,310.9 1601,313.2 1604.8,315.5 1608.5,317.7 1612.3,319.9 1616,321.9 1619.7,323.7 1623.4,325.3 1626.9,326.7 1630.3,327.9 1633.7,329 1637.2,330 1640.6,330.9 1644,331.7 1647.4,332.6 1650.8,333.4 1654.2,334.2 1657.6,335.1 1661,336Z" fill="#e6bb2d" stroke="#e6bb2d" stroke-width="0.6"/>
<path d="M188,351.5 191.4,351 194.8,350.5 198.2,350.1 201.6,349.7 205,349.3 208.4,348.8 211.8,348.3 215.2,347.7 218.7,347 222.1,346.2 225.6,345.3 229.2,344.1 232.9,342.8 236.7,341.3 240.5,339.7 244.2,338 248,336.3 251.8,334.5 255.5,332.7 259.3,330.9 262.9,329.2 266.5,327.6 270,326.1 273.3,324.7 276.5,323.4 279.7,322.1 282.9,320.9 286,319.6 289.1,318.4 292.1,317.2 295.1,316 298.1,314.8 301,313.6 303.9,312.5 307.3,311.1 310.6,309.7 314,308.3 317.2,307 320.4,305.7 323.5,304.5 326.4,303.4 329.3,302.4 332.6,301.3 335.7,300.4 338.6,299.6 341.6,299 344.5,298.7 347.3,298.7 350,298.8 352.8,299.2 355.4,299.8 358,300.7 360.5,301.9 363,303.3 365.4,305.1 367.7,307 369.9,309.2 371.8,311.4 373.6,313.7 375.4,316.3 377,319.1 378.7,321.9 380.3,324.9 381.8,327.8 383.2,330.7 384.6,333.7 385.9,336.8 387.2,339.9 388.4,343.1 389.6,346.4 390.8,349.8 391.9,353.2 392.9,356.3 393.9,359.5 394.9,362.7 395.8,365.9 396.7,369.2 397.6,372.6 398.4,376.1 399.1,379.6 399.8,383.3 400.4,387 400.9,390.9 401.4,394.8 401.7,398.6 402,402.5 402.2,406.5 402.4,410.7 402.5,415 402.6,419.5 402.7,424.4 402.8,429.5 402.9,435 403,441 403.2,456 403.2,473.5 403.1,493.2 402.9,514.7 402.6,537.5 402.2,561.2 401.9,585.5 401.5,609.8 401.2,633.9 400.9,657.2 400.6,679.4 400.5,700 400.5,716.1 400.4,731.4 400.5,746.1 400.5,760.4 400.5,774.5 400.6,788.5 400.7,802.7 400.7,817.3 400.8,832.4 400.9,848.3 400.9,865.1 401,883 401.1,913.1 401.2,945.6 401.2,980 401.3,1016.1 401.4,1053.6 401.5,1092 401.6,1131.1 401.7,1170.6 401.7,1210 401.8,1249.1 401.9,1287.6 402,1325 148.6,1364Z" fill="#febe3c" stroke="#febe3c" stroke-width="0.6"/>
<path d="M1700.2,1364 1447,1325 1447.1,1287.6 1447.2,1249.1 1447.3,1210 1447.3,1170.6 1447.4,1131.1 1447.5,1092 1447.6,1053.6 1447.7,1016.1 1447.8,980 1447.8,945.6 1447.9,913.1 1448,883 1448.1,865.1 1448.1,848.3 1448.2,832.4 1448.3,817.3 1448.3,802.7 1448.4,788.5 1448.5,774.5 1448.5,760.4 1448.5,746.1 1448.6,731.4 1448.5,716.1 1448.5,700 1448.4,679.4 1448.1,657.2 1447.8,633.9 1447.5,609.8 1447.1,585.5 1446.8,561.2 1446.4,537.5 1446.1,514.7 1445.9,493.2 1445.8,473.5 1445.8,456 1446,441 1446.1,435 1446.2,429.5 1446.3,424.4 1446.4,419.5 1446.5,415 1446.6,410.7 1446.8,406.5 1447,402.5 1447.3,398.6 1447.6,394.8 1448.1,390.9 1448.6,387 1449.2,383.3 1449.9,379.6 1450.6,376.1 1451.4,372.6 1452.3,369.2 1453.2,365.9 1454.1,362.7 1455.1,359.5 1456.1,356.3 1457.1,353.2 1458.2,349.8 1459.4,346.4 1460.6,343.1 1461.8,339.9 1463.1,336.8 1464.4,333.7 1465.8,330.7 1467.2,327.8 1468.7,324.9 1470.3,321.9 1472,319.1 1473.6,316.3 1475.4,313.7 1477.2,311.4 1479.1,309.2 1481.3,307 1483.6,305 1486,303.3 1488.5,301.9 1491,300.7 1493.6,299.8 1496.2,299.3 1499,298.9 1501.7,298.8 1504.5,298.9 1507.4,299.4 1510.4,300.1 1513.3,301.1 1516.4,302.3 1519.7,303.6 1522.6,304.7 1525.5,306 1528.6,307.4 1531.8,308.9 1535,310.5 1538.4,312.1 1541.7,313.7 1545.1,315.3 1548,316.6 1550.9,317.9 1553.9,319.3 1556.9,320.7 1559.9,322.1 1563,323.5 1566.1,324.9 1569.3,326.4 1572.5,327.9 1575.7,329.4 1579,331 1582.5,332.7 1586.1,334.5 1589.7,336.5 1593.4,338.5 1597.2,340.5 1601,342.5 1604.7,344.5 1608.5,346.4 1612.3,348.3 1616,350 1619.7,351.6 1623.4,352.9 1626.9,354.1 1630.3,355.1 1633.8,356 1637.2,356.8 1640.6,357.5 1644,358.2 1647.4,358.8 1650.8,359.4 1654.2,360.1 1657.6,360.8 1661,361.5Z" fill="#febe3c" stroke="#febe3c" stroke-width="0.6"/>
<path d="M188,385 190.4,384 192.7,383 195,382 197.5,381 200.5,380 203.2,379.2 206.1,378.5 209.4,377.7 212.8,377 216.4,376.2 220.1,375.4 223.8,374.6 227.5,373.7 231.2,372.7 234.7,371.6 238,370.4 241.1,369.1 244.1,367.7 247,366.2 249.9,364.6 252.7,363 255.6,361.3 258.4,359.6 261.3,358 264.1,356.3 267.1,354.7 270,353.2 273,351.7 276.1,350.3 279.3,348.8 282.4,347.4 285.6,346 288.7,344.6 291.9,343.2 295,341.9 298,340.5 301,339.2 303.9,337.9 306.9,336.5 309.9,335 312.9,333.6 315.8,332.1 318.6,330.7 321.4,329.4 324.1,328.2 326.8,327.1 329.3,326.1 332.6,325 335.7,324 338.7,323.2 341.6,322.7 344.5,322.4 347,322.4 349.4,322.6 351.8,323 354.1,323.6 356.4,324.4 358.9,325.6 361.4,327.1 363.7,328.8 366,330.7 368.2,332.9 370.1,335.2 371.9,337.8 373.6,340.6 375.3,343.6 376.8,346.6 378.4,349.8 379.8,352.7 381.2,355.7 382.6,358.9 383.9,362.1 385.2,365.4 386.4,368.7 387.5,372 388.5,375.2 389.4,378.2 390.2,381.2 390.9,384.2 391.6,387.2 392.2,390.3 392.7,393.4 393.1,396.7 393.5,400.1 393.7,403 393.9,405.9 393.9,408.8 393.9,411.7 393.8,414.6 393.7,417.7 393.6,420.9 393.5,424.4 393.3,428.1 393.2,432 393.1,436.3 393,441 392.8,454.9 392.6,471.8 392.4,491.1 392.1,512.4 391.9,535.4 391.6,559.3 391.3,584 391.1,608.7 390.9,633.2 390.7,656.8 390.6,679.3 390.5,700 390.5,716.1 390.5,731.4 390.6,746.1 390.6,760.4 390.7,774.5 390.8,788.5 391,802.7 391.1,817.3 391.2,832.4 391.3,848.3 391.4,865.1 391.5,883 391.6,913.1 391.7,945.6 391.8,980 391.9,1016.1 391.9,1053.6 392,1092 392.1,1131.1 392.1,1170.6 392.2,1210 392.3,1249.1 392.3,1287.6 392.4,1325 148.6,1364Z" fill="#fccf30" stroke="#fccf30" stroke-width="0.6"/>
<path d="M1700.2,1364 1456.6,1325 1456.7,1287.6 1456.7,1249.1 1456.8,1210 1456.9,1170.6 1456.9,1131.1 1457,1092 1457.1,1053.6 1457.1,1016.1 1457.2,980 1457.3,945.6 1457.4,913.1 1457.5,883 1457.6,865.1 1457.7,848.3 1457.8,832.4 1457.9,817.3 1458,802.7 1458.2,788.5 1458.3,774.5 1458.4,760.4 1458.4,746.1 1458.5,731.4 1458.5,716.1 1458.5,700 1458.4,679.3 1458.3,656.8 1458.1,633.2 1457.9,608.7 1457.7,584 1457.4,559.3 1457.1,535.4 1456.9,512.4 1456.6,491.1 1456.4,471.8 1456.2,454.9 1456,441 1455.9,436.3 1455.8,432 1455.7,428.1 1455.5,424.4 1455.4,420.9 1455.3,417.7 1455.2,414.6 1455.1,411.7 1455.1,408.8 1455.1,405.9 1455.3,403 1455.5,400.1 1455.9,396.7 1456.3,393.4 1456.8,390.3 1457.4,387.2 1458.1,384.2 1458.8,381.2 1459.6,378.2 1460.5,375.2 1461.5,372 1462.6,368.7 1463.8,365.4 1465.1,362.1 1466.4,358.9 1467.8,355.7 1469.2,352.7 1470.6,349.8 1472.2,346.6 1473.7,343.6 1475.4,340.6 1477.1,337.8 1478.9,335.2 1480.8,332.9 1483,330.7 1485.3,328.8 1487.6,327 1490.1,325.6 1492.6,324.4 1494.9,323.6 1497.2,323 1499.6,322.7 1502,322.5 1504.5,322.6 1507.4,323 1510.3,323.7 1513.3,324.7 1516.4,325.9 1519.7,327.3 1522.3,328.4 1524.9,329.7 1527.6,331.1 1530.4,332.6 1533.2,334.1 1536.1,335.8 1539.1,337.4 1542.1,339.1 1545.1,340.7 1548,342.2 1551,343.7 1554,345.2 1557.1,346.7 1560.3,348.3 1563.4,349.9 1566.6,351.5 1569.7,353.1 1572.9,354.8 1576,356.4 1579,358.1 1582,359.8 1584.9,361.5 1587.7,363.4 1590.6,365.2 1593.4,367.1 1596.2,368.9 1599.1,370.8 1602,372.5 1604.9,374.2 1607.9,375.8 1611,377.3 1614.3,378.7 1617.8,380 1621.4,381.2 1625.2,382.3 1628.9,383.4 1632.6,384.4 1636.2,385.4 1639.6,386.4 1642.9,387.3 1645.8,388.3 1648.5,389.2 1651.5,390.4 1654,391.6 1656.3,392.7 1658.6,393.9 1661,395Z" fill="#fccf30" stroke="#fccf30" stroke-width="0.6"/>
<path d="M188,417 191.1,416.2 194.2,415.4 197.2,414.6 200.2,413.9 203.3,413.1 206.5,412.2 209.7,411.2 213,410 215.9,408.9 219,407.7 222.2,406.3 225.5,404.9 228.8,403.4 232.2,401.9 235.5,400.3 238.8,398.8 241.9,397.2 245,395.6 247.8,394 250.5,392.5 253.6,390.5 256.4,388.5 259,386.5 261.6,384.5 264.2,382.5 266.9,380.5 270,378.6 272.7,377.1 275.6,375.7 278.6,374.3 281.8,372.9 285,371.5 288.3,370.1 291.5,368.8 294.8,367.4 297.9,366.1 301,364.7 303.9,363.3 306.9,361.8 310,360.1 312.9,358.5 315.9,356.8 318.7,355.2 321.5,353.6 324.2,352.2 326.8,350.9 329.3,349.8 332.2,348.6 335,347.5 337.6,346.6 340.2,346 342.8,345.6 345.2,345.5 347.7,345.6 350.1,346 352.5,346.5 354.7,347.3 356.9,348.4 359,349.7 361,351.2 362.9,352.9 364.8,354.9 366.7,357.2 368.5,359.8 370.3,362.6 371.9,365.6 373.5,368.7 375,371.8 376.2,374.5 377.4,377.2 378.5,379.9 379.5,382.8 380.4,385.8 381.3,388.9 382,392.1 382.6,395.5 383,398.6 383.2,401.8 383.3,404.9 383.3,408.1 383.2,411.5 383,415 382.8,418.6 382.5,422.5 382.3,426.6 382.1,431.1 381.9,435.9 381.8,441 381.5,455.3 381.2,472.4 380.8,491.9 380.5,513.3 380,536.2 379.6,560.1 379.2,584.5 378.9,609.1 378.6,633.4 378.3,657 378.1,679.3 378,700 378,716.1 378,731.4 378.1,746.1 378.2,760.4 378.4,774.5 378.6,788.5 378.8,802.7 378.9,817.3 379.1,832.4 379.3,848.3 379.5,865.1 379.6,883 379.8,913.1 379.9,945.6 380,980 380.2,1016.1 380.3,1053.6 380.4,1092 380.5,1131.1 380.6,1170.6 380.7,1210 380.8,1249.1 380.9,1287.6 381,1325 212,1325 212.2,1287.6 212.5,1249.1 212.7,1210 212.9,1170.6 213.1,1131.1 213.3,1092 213.5,1053.6 213.8,1016.1 214,980 214.3,945.6 214.6,913.1 215,883 215.3,864.7 215.6,847 216,829.7 216.4,813.1 216.8,797 217.3,781.4 217.6,766.4 218,752 218.3,738.1 218.5,724.8 218.7,712.1 218.7,700 218.7,692.7 218.7,685.7 218.6,679 218.6,672.5 218.5,666.3 218.4,660.3 218.2,654.4 218.1,648.7 217.9,643.1 217.6,637.5 217.3,632 217,626.5 216.7,622 216.4,617.6 216.1,613.3 215.8,609 215.4,604.8 215,600.7 214.6,596.7 214.1,592.6 213.6,588.7 213,584.8 212.4,580.9 211.7,577 211,573.5 210.3,570.1 209.6,566.6 208.8,563.2 207.9,559.8 207.1,556.5 206.1,553.2 205.2,550 204.2,546.9 203.2,543.8 202.1,540.9 201,538 199.6,534.7 198,531.5 196.4,528.5 194.7,525.5 193,522.7 191.3,519.8 189.7,517 188,514Z" fill="#f5e327" stroke="#f5e327" stroke-width="0.6"/>
<path d="M1468,1325 1468.1,1287.6 1468.2,1249.1 1468.3,1210 1468.4,1170.6 1468.5,1131.1 1468.6,1092 1468.7,1053.6 1468.8,1016.1 1469,980 1469.1,945.6 1469.2,913.1 1469.4,883 1469.5,865.1 1469.7,848.3 1469.9,832.4 1470.1,817.3 1470.2,802.7 1470.4,788.5 1470.6,774.5 1470.8,760.4 1470.9,746.1 1471,731.4 1471,716.1 1471,700 1470.9,679.3 1470.7,657 1470.4,633.4 1470.1,609.1 1469.8,584.5 1469.4,560.1 1469,536.2 1468.5,513.3 1468.2,491.9 1467.8,472.4 1467.5,455.3 1467.2,441 1467.1,435.9 1466.9,431.1 1466.7,426.6 1466.5,422.5 1466.2,418.6 1466,415 1465.8,411.5 1465.7,408.1 1465.7,404.9 1465.8,401.8 1466,398.6 1466.4,395.5 1467,392.1 1467.7,388.9 1468.6,385.8 1469.5,382.8 1470.5,379.9 1471.6,377.2 1472.8,374.5 1474,371.8 1475.5,368.7 1477.1,365.6 1478.7,362.6 1480.5,359.8 1482.3,357.2 1484.2,354.9 1486.1,352.9 1488,351.2 1490,349.7 1492.1,348.4 1494.3,347.3 1496.5,346.5 1498.9,346 1501.3,345.7 1503.8,345.6 1506.2,345.7 1508.8,346.1 1511.4,346.7 1514,347.7 1516.8,348.8 1519.7,350 1522.2,351.2 1524.8,352.5 1527.5,354 1530.3,355.6 1533.1,357.2 1536.1,358.9 1539,360.6 1542.1,362.3 1545.1,363.9 1548,365.3 1551.1,366.7 1554.2,368.1 1557.5,369.5 1560.7,370.9 1564,372.3 1567.2,373.7 1570.4,375.1 1573.4,376.6 1576.3,378.1 1579,379.6 1581.7,381.3 1584.2,383 1586.5,384.8 1588.7,386.6 1590.9,388.4 1593.2,390.2 1595.7,392 1598.5,393.7 1601.2,395.3 1604,396.9 1607.1,398.5 1610.2,400.1 1613.5,401.7 1616.8,403.4 1620.2,404.9 1623.5,406.4 1626.8,407.9 1630,409.3 1633.1,410.5 1636,411.7 1639.3,412.9 1642.5,413.9 1645.7,414.9 1648.8,415.7 1651.8,416.5 1654.8,417.3 1657.9,418.1 1661,419 1661,549 1660.1,552.5 1659.2,555.9 1658.3,559.2 1657.4,562.6 1656.5,565.9 1655.6,569.3 1654.7,572.7 1653.8,576.1 1653,579.7 1652.2,583.3 1651.4,587.1 1650.7,591 1649.9,596.2 1649.1,601.7 1648.3,607.3 1647.6,613.2 1647,619.1 1646.4,625.2 1645.8,631.3 1645.3,637.4 1644.8,643.6 1644.4,649.7 1644,655.7 1643.6,661.7 1643.3,667.5 1643,673.1 1642.8,678.6 1642.7,684 1642.5,689.5 1642.4,695 1642.4,700.6 1642.3,706.3 1642.3,712.3 1642.2,718.5 1642.1,725.1 1642,732 1641.8,743.2 1641.6,754.9 1641.4,767.1 1641.2,779.8 1641,793 1640.8,806.7 1640.6,820.9 1640.4,835.7 1640.3,850.9 1640.1,866.7 1640,883.1 1640,900 1640,928.6 1640.1,959.6 1640.3,992.6 1640.6,1027.3 1640.9,1063.3 1641.3,1100.4 1641.7,1138.1 1642.2,1176.2 1642.6,1214.2 1643,1251.9 1643.4,1289 1643.7,1325Z" fill="#f5e327" stroke="#f5e327" stroke-width="0.6"/>
<path d="M271.8,1325 272.2,1287.6 272.5,1249.1 272.9,1210 273.2,1170.6 273.6,1131.1 274,1092 274.3,1053.6 274.7,1016.1 275.1,980 275.5,945.6 275.9,913.1 276.3,883 276.6,864.7 277,847 277.4,829.7 277.8,813.1 278.2,797 278.6,781.4 278.9,766.4 279.3,752 279.6,738.1 279.8,724.8 279.9,712.1 280,700 280,692.7 280,685.8 280,679.2 280,672.9 279.9,666.8 279.9,660.8 279.8,655.1 279.7,649.4 279.5,643.7 279.2,638 279,632.3 278.6,626.5 278.2,621 277.8,615.5 277.4,610 276.9,604.5 276.4,599 275.8,593.6 275.2,588.3 274.5,583 273.8,577.8 273.1,572.7 272.3,567.8 271.5,563 270.8,559.2 270,555.5 269.2,551.9 268.3,548.4 267.4,545 266.5,541.6 265.6,538.3 264.7,534.9 263.8,531.5 262.8,528 261.9,524.5 261,520.8 260,516.5 258.9,512.1 257.8,507.6 256.6,502.9 255.5,498.2 254.4,493.5 253.3,488.9 252.2,484.4 251.2,480 250.3,475.7 249.4,471.7 248.7,468 248,464.5 247.3,461.1 246.6,457.9 245.9,454.9 245.4,451.9 245.1,449 244.9,446.2 245,443.4 245.4,440.3 246,437.3 246.8,434.4 247.8,431.5 249,428.7 250.4,425.8 251.8,423.1 253.4,420.4 255.2,417.7 257.1,414.9 259.1,412.2 261.2,409.6 263.3,407.2 265.5,405 267.8,402.9 270.1,401 272.6,399.3 275.1,397.7 277.7,396.1 280.3,394.6 283,393 285.6,391.5 288.4,390 291.2,388.5 294.1,387.1 297,385.7 299.9,384.4 302.7,383.1 305.5,382 308.3,380.9 311.2,380 314,379.2 316.8,378.4 319.6,377.6 322.3,376.8 325,376 327.8,374.9 330.5,373.7 333.2,372.5 335.9,371.4 338.4,370.7 340.8,370.4 343.5,370.7 346.1,371.6 348.5,372.7 350.8,374 352.9,375.2 354.9,376.5 356.7,378 358.3,380 359.5,382.2 360.5,384.7 361.3,387.6 362.1,390.7 362.8,393.9 363.4,397 364,400 364.6,402.8 365.1,405.7 365.5,408.5 365.9,411.4 366.2,414.2 366.4,417.1 366.6,420 366.7,422.9 366.6,425.6 366.5,428.3 366.3,431 366,434 365.8,437.3 365.5,441 365.2,445.8 364.8,451.2 364.3,457.1 363.8,463.4 363.2,470 362.7,477 362.1,484.1 361.5,491.5 361,498.9 360.5,506.3 360,513.6 359.6,520.8 359.2,529.1 358.8,537.8 358.5,546.6 358.2,555.6 357.9,564.8 357.6,573.9 357.4,583.1 357.2,592.1 357,601.1 356.8,609.8 356.7,618.3 356.5,626.5 356.4,633 356.3,639.1 356.2,645 356.1,650.8 356.1,656.4 356,662 356,667.7 356,673.6 356,679.6 356,686 356,692.8 356,700 356.1,712.1 356.2,724.8 356.4,738.1 356.6,752 356.8,766.4 357.1,781.4 357.4,797 357.6,813.1 357.9,829.7 358.2,847 358.4,864.7 358.6,883 358.9,913.1 359.1,945.6 359.3,980 359.5,1016.1 359.7,1053.6 359.9,1092 360.1,1131.1 360.3,1170.6 360.4,1210 360.6,1249.1 360.8,1287.6 361,1325Z" fill="#f9fb15" stroke="#f9fb15" stroke-width="0.6"/>
<path d="M1484.2,1325 1484.7,1289 1485.3,1251.9 1485.9,1214.2 1486.5,1176.2 1487.1,1138.1 1487.7,1100.4 1488.2,1063.3 1488.8,1027.3 1489.3,992.6 1489.7,959.6 1490.1,928.6 1490.5,900 1490.7,883.2 1490.9,867.1 1491.1,851.7 1491.3,836.9 1491.5,822.6 1491.6,808.8 1491.7,795.4 1491.9,782.3 1491.9,769.5 1492,756.9 1492,744.4 1492,732 1492,722.4 1491.9,713 1491.9,703.9 1491.8,695 1491.7,686.3 1491.6,677.7 1491.5,669.2 1491.4,660.8 1491.2,652.3 1491,643.8 1490.8,635.2 1490.5,626.5 1490.2,617.6 1489.8,608.7 1489.4,599.7 1489,590.7 1488.5,581.7 1488,572.7 1487.5,563.8 1487,554.9 1486.5,546.2 1486,537.6 1485.5,529.1 1485,520.8 1484.6,513.6 1484.1,506.3 1483.7,498.9 1483.2,491.5 1482.7,484.2 1482.3,477 1481.8,470 1481.4,463.4 1481,457.1 1480.6,451.2 1480.3,445.8 1480,441 1479.8,437.3 1479.5,434 1479.2,431 1479,428.2 1478.9,425.6 1478.9,422.8 1479,420 1479.3,417.1 1479.7,414.2 1480.2,411.4 1480.8,408.5 1481.5,405.7 1482.2,402.8 1483,400 1483.9,397 1484.8,393.9 1485.8,390.7 1486.9,387.6 1488.1,384.7 1489.3,382.2 1490.7,380 1492.4,378 1494.2,376.5 1496.1,375.2 1498.2,374 1500.4,372.8 1502.8,371.7 1505.3,370.9 1508.2,370.4 1510.8,370.4 1513.8,370.6 1517,371.1 1520.4,371.8 1523.8,372.5 1527.3,373.4 1530.7,374.2 1534,375 1537.2,375.7 1540.4,376.5 1543.7,377.2 1546.9,378 1550,378.9 1553.1,379.8 1556.1,380.8 1559,382 1561.8,383.3 1564.5,384.7 1567.1,386.2 1569.6,387.8 1572.1,389.5 1574.5,391.2 1577,393 1579.6,394.9 1582.2,397 1584.7,399 1587.3,401.2 1589.7,403.4 1592.1,405.7 1594.4,408 1596.6,410.3 1598.8,412.6 1601,415 1603,417.4 1604.9,419.9 1606.6,422.4 1608,425 1609.2,427.9 1610.2,430.8 1610.9,433.8 1611.4,436.9 1611.8,440.1 1612,443.4 1612,446.2 1611.9,449.1 1611.7,452 1611.4,455.1 1610.9,458.2 1610.4,461.4 1609.8,464.6 1609.1,468 1608.4,471.5 1607.6,475.1 1606.6,478.8 1605.5,482.7 1604.3,486.6 1603,490.6 1601.7,494.7 1600.3,498.9 1599,503.2 1597.7,507.5 1596.5,511.9 1595.4,516.3 1594.4,520.8 1593.4,526.2 1592.4,531.7 1591.5,537.4 1590.6,543.2 1589.8,549.1 1589.1,555 1588.4,561 1587.8,567.1 1587.2,573.1 1586.6,579.1 1586,585.1 1585.5,591 1585,596.7 1584.6,602.3 1584.2,607.7 1583.9,613 1583.6,618.3 1583.3,623.7 1583.1,629.3 1582.8,635 1582.6,641.1 1582.4,647.5 1582.2,654.3 1582,661.7 1581.6,676.7 1581.3,693.5 1581,711.9 1580.8,731.5 1580.6,752.1 1580.5,773.4 1580.4,795.1 1580.3,816.9 1580.2,838.6 1580.2,859.9 1580.3,880.4 1580.3,900 1580.4,917.2 1580.5,934.2 1580.7,951 1580.9,967.5 1581.2,984 1581.4,1000.4 1581.7,1016.7 1582,1033.1 1582.3,1049.6 1582.5,1066.2 1582.8,1083 1583,1100 1583.2,1118.3 1583.4,1136.7 1583.6,1155.3 1583.8,1174 1584,1192.8 1584.2,1211.7 1584.4,1230.6 1584.6,1249.5 1584.8,1268.4 1585,1287.3 1585.2,1306.2 1585.4,1325Z" fill="#f9fb15" stroke="#f9fb15" stroke-width="0.6"/>
<path d="M288,9 290.3,9.8 292.5,10.7 294.7,11.6 297.2,12.4 300,13 302.6,13.4 305.4,13.7 308.4,14 311.7,14.2 315,14.3 318.4,14.4 321.9,14.5 325.3,14.5 328.7,14.5 332,14.5 335.3,14.5 338.7,14.5 342.1,14.5 345.6,14.4 349,14.3 352.3,14.2 355.6,14 358.6,13.7 361.4,13.4 364,13 366.8,12.4 369.3,11.6 371.5,10.7 373.7,9.8 376,9Z" fill="#c5c22a" stroke="#c5c22a" stroke-width="0.6"/>
</g>
<rect x="1731.75" y="7.25" width="82.50" height="1318.05" fill="#3e26a8"/>
<rect x="1731.75" y="7.25" width="82.50" height="1297.46" fill="#402ab4"/>
<rect x="1731.75" y="7.25" width="82.50" height="1276.86" fill="#422ec0"/>
<rect x="1731.75" y="7.25" width="82.50" height="1256.27" fill="#4332cb"/>
<rect x="1731.75" y="7.25" width="82.50" height="1235.67" fill="#4537d5"/>
<rect x="1731.75" y="7.25" width="82.50" height="1215.08" fill="#463cde"/>
<rect x="1731.75" y="7.25" width="82.50" height="1194.48" fill="#4741e5"/>
<rect x="1731.75" y="7.25" width="82.50" height="1173.89" fill="#4747eb"/>
<rect x="1731.75" y="7.25" width="82.50" height="1153.29" fill="#484df0"/>
<rect x="1731.75" y="7.25" width="82.50" height="1132.70" fill="#4852f4"/>
<rect x="1731.75" y="7.25" width="82.50" height="1112.10" fill="#4758f8"/>
<rect x="1731.75" y="7.25" width="82.50" height="1091.51" fill="#465efb"/>
<rect x="1731.75" y="7.25" width="82.50" height="1070.92" fill="#4563fd"/>
<rect x="1731.75" y="7.25" width="82.50" height="1050.32" fill="#4269fe"/>
<rect x="1731.75" y="7.25" width="82.50" height="1029.73" fill="#3e6fff"/>
<rect x="1731.75" y="7.25" width="82.50" height="1009.13" fill="#3875fe"/>
<rect x="1731.75" y="7.25" width="82.50" height="988.54" fill="#327cfc"/>
<rect x="1731.75" y="7.25" width="82.50" height="967.94" fill="#2f81fa"/>
<rect x="1731.75" y="7.25" width="82.50" height="947.35" fill="#2e87f7"/>
<rect x="1731.75" y="7.25" width="82.50" height="926.75" fill="#2d8cf3"/>
<rect x="1731.75" y="7.25" width="82.50" height="906.16" fill="#2b91ef"/>
<rect x="1731.75" y="7.25" width="82.50" height="885.56" fill="#2797eb"/>
<rect x="1731.75" y="7.25" width="82.50" height="864.97" fill="#259be8"/>
<rect x="1731.75" y="7.25" width="82.50" height="844.38" fill="#23a0e5"/>
<rect x="1731.75" y="7.25" width="82.50" height="823.78" fill="#20a5e3"/>
<rect x="1731.75" y="7.25" width="82.50" height="803.19" fill="#1ca9df"/>
<rect x="1731.75" y="7.25" width="82.50" height="782.59" fill="#18addb"/>
<rect x="1731.75" y="7.25" width="82.50" height="762.00" fill="#12b1d6"/>
<rect x="1731.75" y="7.25" width="82.50" height="741.40" fill="#08b5d0"/>
<rect x="1731.75" y="7.25" width="82.50" height="720.81" fill="#01b8ca"/>
<rect x="1731.75" y="7.25" width="82.50" height="700.21" fill="#02bac3"/>
<rect x="1731.75" y="7.25" width="82.50" height="679.62" fill="#0bbdbd"/>
<rect x="1731.75" y="7.25" width="82.50" height="659.02" fill="#19bfb6"/>
<rect x="1731.75" y="7.25" width="82.50" height="638.43" fill="#24c1ae"/>
<rect x="1731.75" y="7.25" width="82.50" height="617.84" fill="#2cc4a7"/>
<rect x="1731.75" y="7.25" width="82.50" height="597.24" fill="#31c69f"/>
<rect x="1731.75" y="7.25" width="82.50" height="576.65" fill="#37c897"/>
<rect x="1731.75" y="7.25" width="82.50" height="556.05" fill="#3fca8e"/>
<rect x="1731.75" y="7.25" width="82.50" height="535.46" fill="#4acb84"/>
<rect x="1731.75" y="7.25" width="82.50" height="514.86" fill="#57cc7a"/>
<rect x="1731.75" y="7.25" width="82.50" height="494.27" fill="#64cd6f"/>
<rect x="1731.75" y="7.25" width="82.50" height="473.67" fill="#72cd64"/>
<rect x="1731.75" y="7.25" width="82.50" height="453.08" fill="#81cc59"/>
<rect x="1731.75" y="7.25" width="82.50" height="432.49" fill="#8fcb4e"/>
<rect x="1731.75" y="7.25" width="82.50" height="411.89" fill="#9dc943"/>
<rect x="1731.75" y="7.25" width="82.50" height="391.30" fill="#abc739"/>
<rect x="1731.75" y="7.25" width="82.50" height="370.70" fill="#b9c431"/>
<rect x="1731.75" y="7.25" width="82.50" height="350.11" fill="#c5c22a"/>
<rect x="1731.75" y="7.25" width="82.50" height="329.51" fill="#d1bf27"/>
<rect x="1731.75" y="7.25" width="82.50" height="308.92" fill="#dcbd29"/>
<rect x="1731.75" y="7.25" width="82.50" height="288.32" fill="#e6bb2d"/>
<rect x="1731.75" y="7.25" width="82.50" height="267.73" fill="#f0ba36"/>
<rect x="1731.75" y="7.25" width="82.50" height="247.13" fill="#f8ba3d"/>
<rect x="1731.75" y="7.25" width="82.50" height="226.54" fill="#febe3c"/>
<rect x="1731.75" y="7.25" width="82.50" height="205.95" fill="#fec338"/>
<rect x="1731.75" y="7.25" width="82.50" height="185.35" fill="#fec934"/>
<rect x="1731.75" y="7.25" width="82.50" height="164.76" fill="#fccf30"/>
<rect x="1731.75" y="7.25" width="82.50" height="144.16" fill="#fad62d"/>
<rect x="1731.75" y="7.25" width="82.50" height="123.57" fill="#f7dc2a"/>
<rect x="1731.75" y="7.25" width="82.50" height="102.97" fill="#f5e327"/>
<rect x="1731.75" y="7.25" width="82.50" height="82.38" fill="#f5e924"/>
<rect x="1731.75" y="7.25" width="82.50" height="61.78" fill="#f6ef20"/>
<rect x="1731.75" y="7.25" width="82.50" height="41.19" fill="#f7f51b"/>
<rect x="1731.75" y="7.25" width="82.50" height="20.59" fill="#f9fb15"/>
<g stroke="#1c1c1c" stroke-width="2.4" fill="none" stroke-linecap="butt">
<rect x="188.60" y="9.35" width="1471.65" height="1314.65"/>
<rect x="1731.75" y="7.25" width="82.50" height="1318.05"/>
<path d="M433.9,9.3v14.5 M433.9,1324.0v-14.5"/>
<path d="M679.1,9.3v14.5 M679.1,1324.0v-14.5"/>
<path d="M924.4,9.3v14.5 M924.4,1324.0v-14.5"/>
<path d="M1169.7,9.3v14.5 M1169.7,1324.0v-14.5"/>
<path d="M1415.0,9.3v14.5 M1415.0,1324.0v-14.5"/>
<path d="M188.6,220.6h14.5 M1660.2,220.6h-14.5"/>
<path d="M188.6,441.3h14.5 M1660.2,441.3h-14.5"/>
<path d="M188.6,662.0h14.5 M1660.2,662.0h-14.5"/>
<path d="M188.6,882.6h14.5 M1660.2,882.6h-14.5"/>
<path d="M188.6,1103.3h14.5 M1660.2,1103.3h-14.5"/>
<path d="M1814.2,1296.5h-14.5"/>
<path d="M1814.2,1162.5h-14.5"/>
<path d="M1814.2,1028.5h-14.5"/>
<path d="M1814.2,894.5h-14.5"/>
<path d="M1814.2,760.5h-14.5"/>
<path d="M1814.2,626.5h-14.5"/>
<path d="M1814.2,492.5h-14.5"/>
<path d="M1814.2,358.5h-14.5"/>
<path d="M1814.2,224.5h-14.5"/>
<path d="M1814.2,90.5h-14.5"/>
</g>
<g font-family="'Liberation Sans', sans-serif" font-size="51.5" fill="#262626">
<text x="187.6" y="1397.5" text-anchor="middle">-60</text>
<text x="432.9" y="1397.5" text-anchor="middle">-40</text>
<text x="678.1" y="1397.5" text-anchor="middle">-20</text>
<text x="924.4" y="1397.5" text-anchor="middle">0</text>
<text x="1169.7" y="1397.5" text-anchor="middle">20</text>
<text x="1415.0" y="1397.5" text-anchor="middle">40</text>
<text x="1660.2" y="1397.5" text-anchor="middle">60</text>
<text x="167.5" y="241.1" text-anchor="end">50</text>
<text x="167.5" y="461.8" text-anchor="end">100</text>
<text x="167.5" y="682.5" text-anchor="end">150</text>
<text x="167.5" y="903.1" text-anchor="end">200</text>
<text x="167.5" y="1123.8" text-anchor="end">250</text>
<text x="167.5" y="1344.5" text-anchor="end">300</text>
</g>
<g font-family="'Liberation Sans', sans-serif" font-size="46" fill="#262626">
<text x="1835" y="1314.3">30</text>
<text x="1835" y="1180.3">40</text>
<text x="1835" y="1046.3">50</text>
<text x="1835" y="912.3">60</text>
<text x="1835" y="778.3">70</text>
<text x="1835" y="644.3">80</text>
<text x="1835" y="510.3">90</text>
<text x="1835" y="376.3">100</text>
<text x="1835" y="242.3">110</text>
<text x="1835" y="108.3">120</text>
</g>
<text font-family="'Liberation Serif', serif" font-size="56" fill="#262626"><tspan x="877" y="1462" font-style="italic">x</tspan><tspan x="905" y="1474" font-size="84">/</tspan><tspan x="929.5" y="1462">m</tspan></text>
<text transform="translate(45.5,789.2) rotate(-90)" font-family="'Liberation Serif', serif" fill="#262626"><tspan x="-1" y="0" font-size="62">(</tspan><tspan x="23" y="0" font-size="55" font-style="italic">A</tspan><tspan x="64" y="0" font-size="55" font-style="italic">B</tspan><tspan x="94" y="13" font-size="84">/</tspan><tspan x="122" y="0" font-size="55">2</tspan><tspan x="153" y="0" font-size="62">)</tspan><tspan x="178" y="13" font-size="84">/</tspan><tspan x="206" y="0" font-size="55">m</tspan></text>
<text transform="translate(1973.6,810) rotate(-90)" font-size="45.5" letter-spacing="0.75" fill="#262626" font-family="'Liberation Sans', sans-serif">Re(<tspan font-family="'Liberation Serif', serif" font-style="italic" font-size="48">ρ</tspan><tspan font-size="36" dy="22">s</tspan><tspan dy="-22">) / (</tspan><tspan font-family="'Liberation Serif', serif" font-style="italic" font-size="47">Ω</tspan>·m)</text>
<text font-size="47" fill="#0a0a0a" font-family="'Liberation Serif', 'Noto Serif CJK SC', serif"><tspan x="224.5" y="1257" font-size="41">（</tspan><tspan x="275" y="1257.5" font-size="47" stroke="#0a0a0a" stroke-width="0.35">c</tspan><tspan x="304.5" y="1257" font-size="41">）</tspan></text>
</svg>
</body></html>
